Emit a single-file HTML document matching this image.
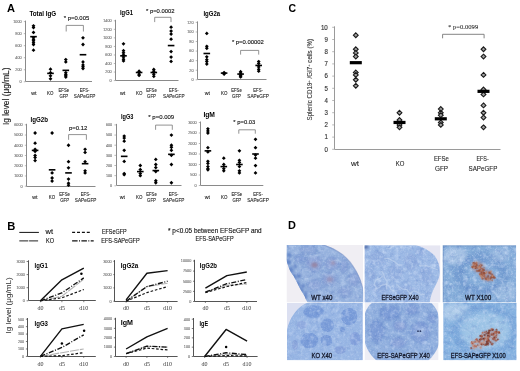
<!DOCTYPE html>
<html><head><meta charset="utf-8"><style>
html,body{margin:0;padding:0;background:#fff;width:520px;height:371px;overflow:hidden}
svg{display:block;filter:blur(0.3px)}
</style></head><body>
<svg width="520" height="371" viewBox="0 0 520 371" font-family="Liberation Sans, sans-serif">
<rect width="520" height="371" fill="#fff"/>
<text x="7.00" y="11.70" font-size="11.8" font-weight="bold" textLength="8.00" lengthAdjust="spacingAndGlyphs">A</text>
<text x="7.20" y="229.50" font-size="11.8" font-weight="bold" textLength="8.10" lengthAdjust="spacingAndGlyphs">B</text>
<text x="288.60" y="11.70" font-size="11.8" font-weight="bold" textLength="7.60" lengthAdjust="spacingAndGlyphs">C</text>
<text x="288.10" y="228.80" font-size="11.8" font-weight="bold" textLength="7.90" lengthAdjust="spacingAndGlyphs">D</text>
<text x="8.90" y="96.30" font-size="8.4" stroke="#222" stroke-width="0.15" text-anchor="middle" fill="#222" textLength="57.60" lengthAdjust="spacingAndGlyphs" transform="rotate(-90 8.90 96.30)">Ig level (μg/mL)</text>
<line x1="25.50" y1="20.60" x2="25.50" y2="81.50" stroke="#8a8a8a" stroke-width="1.0"/>
<line x1="25.50" y1="81.50" x2="92.00" y2="81.50" stroke="#8a8a8a" stroke-width="1.0"/>
<line x1="23.80" y1="81.80" x2="25.40" y2="81.80" stroke="#8a8a8a" stroke-width="0.6"/>
<text x="21.60" y="83.10" font-size="3.8" stroke="#777" stroke-width="0.12" text-anchor="end" fill="#777" textLength="2.10" lengthAdjust="spacingAndGlyphs">0</text>
<line x1="23.80" y1="69.76" x2="25.40" y2="69.76" stroke="#8a8a8a" stroke-width="0.6"/>
<text x="21.60" y="71.06" font-size="3.8" stroke="#777" stroke-width="0.12" text-anchor="end" fill="#777" textLength="6.30" lengthAdjust="spacingAndGlyphs">200</text>
<line x1="23.80" y1="57.72" x2="25.40" y2="57.72" stroke="#8a8a8a" stroke-width="0.6"/>
<text x="21.60" y="59.02" font-size="3.8" stroke="#777" stroke-width="0.12" text-anchor="end" fill="#777" textLength="6.30" lengthAdjust="spacingAndGlyphs">400</text>
<line x1="23.80" y1="45.68" x2="25.40" y2="45.68" stroke="#8a8a8a" stroke-width="0.6"/>
<text x="21.60" y="46.98" font-size="3.8" stroke="#777" stroke-width="0.12" text-anchor="end" fill="#777" textLength="6.30" lengthAdjust="spacingAndGlyphs">600</text>
<line x1="23.80" y1="33.64" x2="25.40" y2="33.64" stroke="#8a8a8a" stroke-width="0.6"/>
<text x="21.60" y="34.94" font-size="3.8" stroke="#777" stroke-width="0.12" text-anchor="end" fill="#777" textLength="6.30" lengthAdjust="spacingAndGlyphs">800</text>
<line x1="23.80" y1="21.60" x2="25.40" y2="21.60" stroke="#8a8a8a" stroke-width="0.6"/>
<text x="21.60" y="22.90" font-size="3.8" stroke="#777" stroke-width="0.12" text-anchor="end" fill="#777" textLength="8.40" lengthAdjust="spacingAndGlyphs">1000</text>
<text x="29.40" y="16.10" font-size="7" font-weight="bold" textLength="26.80" lengthAdjust="spacingAndGlyphs">Total IgG</text>
<text x="63.80" y="20.10" font-size="6.2" stroke="#111" stroke-width="0.12" fill="#111" textLength="25.40" lengthAdjust="spacingAndGlyphs">* p=0.005</text>
<polyline points="66.20,31.50 66.20,25.40 83.40,25.40 83.40,31.50" fill="none" stroke="#777" stroke-width="0.8" stroke-linejoin="round"/>
<polygon points="33.50,23.91 35.40,25.81 33.50,27.71 31.60,25.81" fill="#000"/>
<polygon points="33.50,25.72 35.40,27.62 33.50,29.52 31.60,27.62" fill="#000"/>
<polygon points="33.50,30.54 35.40,32.44 33.50,34.34 31.60,32.44" fill="#000"/>
<polygon points="33.50,35.95 35.40,37.85 33.50,39.75 31.60,37.85" fill="#000"/>
<polygon points="33.50,37.76 35.40,39.66 33.50,41.56 31.60,39.66" fill="#000"/>
<polygon points="33.50,38.96 35.40,40.86 33.50,42.76 31.60,40.86" fill="#000"/>
<polygon points="33.50,40.77 35.40,42.67 33.50,44.57 31.60,42.67" fill="#000"/>
<polygon points="33.50,42.58 35.40,44.48 33.50,46.38 31.60,44.48" fill="#000"/>
<polygon points="33.50,48.30 35.40,50.20 33.50,52.09 31.60,50.20" fill="#000"/>
<rect x="30.20" y="35.85" width="6.6" height="1.6" fill="#000"/>
<polygon points="50.50,67.26 52.40,69.16 50.50,71.06 48.60,69.16" fill="#000"/>
<polygon points="50.50,70.87 52.40,72.77 50.50,74.67 48.60,72.77" fill="#000"/>
<polygon points="50.50,73.88 52.40,75.78 50.50,77.68 48.60,75.78" fill="#000"/>
<polygon points="50.50,76.89 52.40,78.79 50.50,80.69 48.60,78.79" fill="#000"/>
<rect x="47.20" y="72.57" width="6.6" height="1.6" fill="#000"/>
<polygon points="65.80,57.63 67.70,59.53 65.80,61.43 63.90,59.53" fill="#000"/>
<polygon points="65.80,60.03 67.70,61.93 65.80,63.83 63.90,61.93" fill="#000"/>
<polygon points="65.80,70.87 67.70,72.77 65.80,74.67 63.90,72.77" fill="#000"/>
<polygon points="65.80,72.68 67.70,74.58 65.80,76.48 63.90,74.58" fill="#000"/>
<polygon points="65.80,73.88 67.70,75.78 65.80,77.68 63.90,75.78" fill="#000"/>
<polygon points="65.80,75.08 67.70,76.98 65.80,78.88 63.90,76.98" fill="#000"/>
<rect x="62.50" y="69.56" width="6.6" height="1.6" fill="#000"/>
<polygon points="83.00,35.95 84.90,37.85 83.00,39.75 81.10,37.85" fill="#000"/>
<polygon points="83.00,42.58 84.90,44.48 83.00,46.38 81.10,44.48" fill="#000"/>
<polygon points="83.00,60.03 84.90,61.93 83.00,63.83 81.10,61.93" fill="#000"/>
<polygon points="83.00,63.04 84.90,64.94 83.00,66.84 81.10,64.94" fill="#000"/>
<polygon points="83.00,64.85 84.90,66.75 83.00,68.65 81.10,66.75" fill="#000"/>
<polygon points="83.00,66.66 84.90,68.56 83.00,70.46 81.10,68.56" fill="#000"/>
<rect x="79.70" y="53.91" width="6.6" height="1.6" fill="#000"/>
<text x="33.80" y="95.10" font-size="5.6" stroke="#262626" stroke-width="0.12" text-anchor="middle" fill="#262626" textLength="5.20" lengthAdjust="spacingAndGlyphs">wt</text>
<text x="50.30" y="95.40" font-size="5.6" stroke="#262626" stroke-width="0.12" text-anchor="middle" fill="#262626" textLength="6.40" lengthAdjust="spacingAndGlyphs">KO</text>
<text x="63.80" y="91.50" font-size="5.6" stroke="#262626" stroke-width="0.12" text-anchor="middle" fill="#262626" textLength="10.60" lengthAdjust="spacingAndGlyphs">EFSe</text>
<text x="63.80" y="98.20" font-size="5.6" stroke="#262626" stroke-width="0.12" text-anchor="middle" fill="#262626" textLength="8.80" lengthAdjust="spacingAndGlyphs">GFP</text>
<text x="84.60" y="91.50" font-size="5.6" stroke="#262626" stroke-width="0.12" text-anchor="middle" fill="#262626" textLength="9.60" lengthAdjust="spacingAndGlyphs">EFS-</text>
<text x="84.60" y="98.20" font-size="5.6" stroke="#262626" stroke-width="0.12" text-anchor="middle" fill="#262626" textLength="21.50" lengthAdjust="spacingAndGlyphs">SAPeGFP</text>
<line x1="115.50" y1="19.80" x2="115.50" y2="80.50" stroke="#8a8a8a" stroke-width="1.0"/>
<line x1="115.50" y1="80.50" x2="178.50" y2="80.50" stroke="#8a8a8a" stroke-width="1.0"/>
<line x1="113.80" y1="80.60" x2="115.40" y2="80.60" stroke="#8a8a8a" stroke-width="0.6"/>
<text x="111.60" y="81.90" font-size="3.8" stroke="#777" stroke-width="0.12" text-anchor="end" fill="#777" textLength="2.10" lengthAdjust="spacingAndGlyphs">0</text>
<line x1="113.80" y1="72.06" x2="115.40" y2="72.06" stroke="#8a8a8a" stroke-width="0.6"/>
<text x="111.60" y="73.36" font-size="3.8" stroke="#777" stroke-width="0.12" text-anchor="end" fill="#777" textLength="6.30" lengthAdjust="spacingAndGlyphs">200</text>
<line x1="113.80" y1="63.51" x2="115.40" y2="63.51" stroke="#8a8a8a" stroke-width="0.6"/>
<text x="111.60" y="64.81" font-size="3.8" stroke="#777" stroke-width="0.12" text-anchor="end" fill="#777" textLength="6.30" lengthAdjust="spacingAndGlyphs">400</text>
<line x1="113.80" y1="54.97" x2="115.40" y2="54.97" stroke="#8a8a8a" stroke-width="0.6"/>
<text x="111.60" y="56.27" font-size="3.8" stroke="#777" stroke-width="0.12" text-anchor="end" fill="#777" textLength="6.30" lengthAdjust="spacingAndGlyphs">600</text>
<line x1="113.80" y1="46.43" x2="115.40" y2="46.43" stroke="#8a8a8a" stroke-width="0.6"/>
<text x="111.60" y="47.73" font-size="3.8" stroke="#777" stroke-width="0.12" text-anchor="end" fill="#777" textLength="6.30" lengthAdjust="spacingAndGlyphs">800</text>
<line x1="113.80" y1="37.89" x2="115.40" y2="37.89" stroke="#8a8a8a" stroke-width="0.6"/>
<text x="111.60" y="39.19" font-size="3.8" stroke="#777" stroke-width="0.12" text-anchor="end" fill="#777" textLength="8.40" lengthAdjust="spacingAndGlyphs">1000</text>
<line x1="113.80" y1="29.34" x2="115.40" y2="29.34" stroke="#8a8a8a" stroke-width="0.6"/>
<text x="111.60" y="30.64" font-size="3.8" stroke="#777" stroke-width="0.12" text-anchor="end" fill="#777" textLength="8.40" lengthAdjust="spacingAndGlyphs">1200</text>
<line x1="113.80" y1="20.80" x2="115.40" y2="20.80" stroke="#8a8a8a" stroke-width="0.6"/>
<text x="111.60" y="22.10" font-size="3.8" stroke="#777" stroke-width="0.12" text-anchor="end" fill="#777" textLength="8.40" lengthAdjust="spacingAndGlyphs">1400</text>
<text x="120.00" y="14.90" font-size="7" font-weight="bold" textLength="13.00" lengthAdjust="spacingAndGlyphs">IgG1</text>
<text x="146.00" y="12.90" font-size="6.2" stroke="#111" stroke-width="0.12" fill="#111" textLength="28.60" lengthAdjust="spacingAndGlyphs">* p=0.0002</text>
<polyline points="154.70,22.10 154.70,17.30 171.00,17.30 171.00,22.10" fill="none" stroke="#777" stroke-width="0.8" stroke-linejoin="round"/>
<polygon points="123.50,41.97 125.40,43.87 123.50,45.77 121.60,43.87" fill="#000"/>
<polygon points="123.50,48.80 125.40,50.70 123.50,52.60 121.60,50.70" fill="#000"/>
<polygon points="123.50,50.94 125.40,52.84 123.50,54.74 121.60,52.84" fill="#000"/>
<polygon points="123.50,53.07 125.40,54.97 123.50,56.87 121.60,54.97" fill="#000"/>
<polygon points="123.50,55.21 125.40,57.11 123.50,59.01 121.60,57.11" fill="#000"/>
<polygon points="123.50,57.34 125.40,59.24 123.50,61.14 121.60,59.24" fill="#000"/>
<polygon points="123.50,59.05 125.40,60.95 123.50,62.85 121.60,60.95" fill="#000"/>
<rect x="120.20" y="55.03" width="6.6" height="1.6" fill="#000"/>
<polygon points="139.10,69.30 141.00,71.20 139.10,73.10 137.20,71.20" fill="#000"/>
<polygon points="139.10,70.16 141.00,72.06 139.10,73.96 137.20,72.06" fill="#000"/>
<polygon points="139.10,72.29 141.00,74.19 139.10,76.09 137.20,74.19" fill="#000"/>
<polygon points="139.10,73.57 141.00,75.47 139.10,77.37 137.20,75.47" fill="#000"/>
<rect x="135.80" y="71.68" width="6.6" height="1.6" fill="#000"/>
<polygon points="153.80,67.59 155.70,69.49 153.80,71.39 151.90,69.49" fill="#000"/>
<polygon points="153.80,69.30 155.70,71.20 153.80,73.10 151.90,71.20" fill="#000"/>
<polygon points="153.80,72.29 155.70,74.19 153.80,76.09 151.90,74.19" fill="#000"/>
<polygon points="153.80,74.43 155.70,76.33 153.80,78.23 151.90,76.33" fill="#000"/>
<rect x="150.50" y="71.68" width="6.6" height="1.6" fill="#000"/>
<polygon points="171.10,25.31 173.00,27.21 171.10,29.11 169.20,27.21" fill="#000"/>
<polygon points="171.10,29.15 173.00,31.05 171.10,32.95 169.20,31.05" fill="#000"/>
<polygon points="171.10,32.14 173.00,34.04 171.10,35.94 169.20,34.04" fill="#000"/>
<polygon points="171.10,37.27 173.00,39.17 171.10,41.07 169.20,39.17" fill="#000"/>
<polygon points="171.10,49.65 173.00,51.55 171.10,53.45 169.20,51.55" fill="#000"/>
<polygon points="171.10,55.21 173.00,57.11 171.10,59.01 169.20,57.11" fill="#000"/>
<polygon points="171.10,59.48 173.00,61.38 171.10,63.28 169.20,61.38" fill="#000"/>
<rect x="167.80" y="44.77" width="6.6" height="1.6" fill="#000"/>
<text x="122.60" y="95.10" font-size="5.6" stroke="#262626" stroke-width="0.12" text-anchor="middle" fill="#262626" textLength="5.20" lengthAdjust="spacingAndGlyphs">wt</text>
<text x="139.20" y="95.40" font-size="5.6" stroke="#262626" stroke-width="0.12" text-anchor="middle" fill="#262626" textLength="6.40" lengthAdjust="spacingAndGlyphs">KO</text>
<text x="151.50" y="91.50" font-size="5.6" stroke="#262626" stroke-width="0.12" text-anchor="middle" fill="#262626" textLength="10.60" lengthAdjust="spacingAndGlyphs">EFSe</text>
<text x="151.50" y="98.20" font-size="5.6" stroke="#262626" stroke-width="0.12" text-anchor="middle" fill="#262626" textLength="8.80" lengthAdjust="spacingAndGlyphs">GFP</text>
<text x="173.80" y="91.50" font-size="5.6" stroke="#262626" stroke-width="0.12" text-anchor="middle" fill="#262626" textLength="9.60" lengthAdjust="spacingAndGlyphs">EFS-</text>
<text x="173.80" y="98.20" font-size="5.6" stroke="#262626" stroke-width="0.12" text-anchor="middle" fill="#262626" textLength="21.50" lengthAdjust="spacingAndGlyphs">SAPeGFP</text>
<line x1="197.50" y1="21.40" x2="197.50" y2="79.50" stroke="#8a8a8a" stroke-width="1.0"/>
<line x1="197.50" y1="79.50" x2="266.50" y2="79.50" stroke="#8a8a8a" stroke-width="1.0"/>
<line x1="195.70" y1="79.80" x2="197.30" y2="79.80" stroke="#8a8a8a" stroke-width="0.6"/>
<text x="193.50" y="81.10" font-size="3.8" stroke="#777" stroke-width="0.12" text-anchor="end" fill="#777" textLength="2.10" lengthAdjust="spacingAndGlyphs">0</text>
<line x1="195.70" y1="70.23" x2="197.30" y2="70.23" stroke="#8a8a8a" stroke-width="0.6"/>
<text x="193.50" y="71.53" font-size="3.8" stroke="#777" stroke-width="0.12" text-anchor="end" fill="#777" textLength="4.20" lengthAdjust="spacingAndGlyphs">20</text>
<line x1="195.70" y1="60.67" x2="197.30" y2="60.67" stroke="#8a8a8a" stroke-width="0.6"/>
<text x="193.50" y="61.97" font-size="3.8" stroke="#777" stroke-width="0.12" text-anchor="end" fill="#777" textLength="4.20" lengthAdjust="spacingAndGlyphs">40</text>
<line x1="195.70" y1="51.10" x2="197.30" y2="51.10" stroke="#8a8a8a" stroke-width="0.6"/>
<text x="193.50" y="52.40" font-size="3.8" stroke="#777" stroke-width="0.12" text-anchor="end" fill="#777" textLength="4.20" lengthAdjust="spacingAndGlyphs">60</text>
<line x1="195.70" y1="41.53" x2="197.30" y2="41.53" stroke="#8a8a8a" stroke-width="0.6"/>
<text x="193.50" y="42.83" font-size="3.8" stroke="#777" stroke-width="0.12" text-anchor="end" fill="#777" textLength="4.20" lengthAdjust="spacingAndGlyphs">80</text>
<line x1="195.70" y1="31.97" x2="197.30" y2="31.97" stroke="#8a8a8a" stroke-width="0.6"/>
<text x="193.50" y="33.27" font-size="3.8" stroke="#777" stroke-width="0.12" text-anchor="end" fill="#777" textLength="6.30" lengthAdjust="spacingAndGlyphs">100</text>
<line x1="195.70" y1="22.40" x2="197.30" y2="22.40" stroke="#8a8a8a" stroke-width="0.6"/>
<text x="193.50" y="23.70" font-size="3.8" stroke="#777" stroke-width="0.12" text-anchor="end" fill="#777" textLength="6.30" lengthAdjust="spacingAndGlyphs">120</text>
<text x="203.40" y="15.90" font-size="7" font-weight="bold" textLength="16.70" lengthAdjust="spacingAndGlyphs">IgG2a</text>
<text x="231.90" y="44.30" font-size="6.2" stroke="#111" stroke-width="0.12" fill="#111" textLength="32.00" lengthAdjust="spacingAndGlyphs">* p=0.00002</text>
<polyline points="240.60,54.60 240.60,50.40 258.70,50.40 258.70,54.60" fill="none" stroke="#777" stroke-width="0.8" stroke-linejoin="round"/>
<polygon points="206.80,31.50 208.70,33.40 206.80,35.30 204.90,33.40" fill="#000"/>
<polygon points="206.80,44.42 208.70,46.32 206.80,48.22 204.90,46.32" fill="#000"/>
<polygon points="206.80,46.33 208.70,48.23 206.80,50.13 204.90,48.23" fill="#000"/>
<polygon points="206.80,54.94 208.70,56.84 206.80,58.74 204.90,56.84" fill="#000"/>
<polygon points="206.80,57.81 208.70,59.71 206.80,61.61 204.90,59.71" fill="#000"/>
<polygon points="206.80,59.72 208.70,61.62 206.80,63.52 204.90,61.62" fill="#000"/>
<polygon points="206.80,62.12 208.70,64.02 206.80,65.92 204.90,64.02" fill="#000"/>
<rect x="203.50" y="52.69" width="6.6" height="1.6" fill="#000"/>
<polygon points="224.10,70.72 226.00,72.62 224.10,74.53 222.20,72.62" fill="#000"/>
<polygon points="224.10,71.68 226.00,73.58 224.10,75.48 222.20,73.58" fill="#000"/>
<polygon points="224.10,72.16 226.00,74.06 224.10,75.96 222.20,74.06" fill="#000"/>
<rect x="220.80" y="72.30" width="6.6" height="1.6" fill="#000"/>
<polygon points="240.60,69.77 242.50,71.67 240.60,73.57 238.70,71.67" fill="#000"/>
<polygon points="240.60,71.20 242.50,73.10 240.60,75.00 238.70,73.10" fill="#000"/>
<polygon points="240.60,73.12 242.50,75.02 240.60,76.92 238.70,75.02" fill="#000"/>
<polygon points="240.60,74.07 242.50,75.97 240.60,77.87 238.70,75.97" fill="#000"/>
<polygon points="240.60,75.03 242.50,76.93 240.60,78.83 238.70,76.93" fill="#000"/>
<rect x="237.30" y="73.26" width="6.6" height="1.6" fill="#000"/>
<polygon points="258.70,59.72 260.60,61.62 258.70,63.52 256.80,61.62" fill="#000"/>
<polygon points="258.70,61.64 260.60,63.54 258.70,65.44 256.80,63.54" fill="#000"/>
<polygon points="258.70,64.98 260.60,66.88 258.70,68.78 256.80,66.88" fill="#000"/>
<polygon points="258.70,67.38 260.60,69.28 258.70,71.18 256.80,69.28" fill="#000"/>
<polygon points="258.70,69.29 260.60,71.19 258.70,73.09 256.80,71.19" fill="#000"/>
<rect x="255.40" y="64.65" width="6.6" height="1.6" fill="#000"/>
<text x="207.30" y="95.10" font-size="5.6" stroke="#262626" stroke-width="0.12" text-anchor="middle" fill="#262626" textLength="5.20" lengthAdjust="spacingAndGlyphs">wt</text>
<text x="224.20" y="95.40" font-size="5.6" stroke="#262626" stroke-width="0.12" text-anchor="middle" fill="#262626" textLength="6.40" lengthAdjust="spacingAndGlyphs">KO</text>
<text x="236.50" y="91.50" font-size="5.6" stroke="#262626" stroke-width="0.12" text-anchor="middle" fill="#262626" textLength="10.60" lengthAdjust="spacingAndGlyphs">EFSe</text>
<text x="236.50" y="98.20" font-size="5.6" stroke="#262626" stroke-width="0.12" text-anchor="middle" fill="#262626" textLength="8.80" lengthAdjust="spacingAndGlyphs">GFP</text>
<text x="258.10" y="91.50" font-size="5.6" stroke="#262626" stroke-width="0.12" text-anchor="middle" fill="#262626" textLength="9.60" lengthAdjust="spacingAndGlyphs">EFS-</text>
<text x="258.10" y="98.20" font-size="5.6" stroke="#262626" stroke-width="0.12" text-anchor="middle" fill="#262626" textLength="21.50" lengthAdjust="spacingAndGlyphs">SAPeGFP</text>
<line x1="26.50" y1="123.80" x2="26.50" y2="186.50" stroke="#8a8a8a" stroke-width="1.0"/>
<line x1="26.50" y1="186.50" x2="95.50" y2="186.50" stroke="#8a8a8a" stroke-width="1.0"/>
<line x1="24.80" y1="186.20" x2="26.40" y2="186.20" stroke="#8a8a8a" stroke-width="0.6"/>
<text x="22.60" y="187.50" font-size="3.8" stroke="#777" stroke-width="0.12" text-anchor="end" fill="#777" textLength="2.10" lengthAdjust="spacingAndGlyphs">0</text>
<line x1="24.80" y1="175.97" x2="26.40" y2="175.97" stroke="#8a8a8a" stroke-width="0.6"/>
<text x="22.60" y="177.27" font-size="3.8" stroke="#777" stroke-width="0.12" text-anchor="end" fill="#777" textLength="8.40" lengthAdjust="spacingAndGlyphs">1000</text>
<line x1="24.80" y1="165.73" x2="26.40" y2="165.73" stroke="#8a8a8a" stroke-width="0.6"/>
<text x="22.60" y="167.03" font-size="3.8" stroke="#777" stroke-width="0.12" text-anchor="end" fill="#777" textLength="8.40" lengthAdjust="spacingAndGlyphs">2000</text>
<line x1="24.80" y1="155.50" x2="26.40" y2="155.50" stroke="#8a8a8a" stroke-width="0.6"/>
<text x="22.60" y="156.80" font-size="3.8" stroke="#777" stroke-width="0.12" text-anchor="end" fill="#777" textLength="8.40" lengthAdjust="spacingAndGlyphs">3000</text>
<line x1="24.80" y1="145.27" x2="26.40" y2="145.27" stroke="#8a8a8a" stroke-width="0.6"/>
<text x="22.60" y="146.57" font-size="3.8" stroke="#777" stroke-width="0.12" text-anchor="end" fill="#777" textLength="8.40" lengthAdjust="spacingAndGlyphs">4000</text>
<line x1="24.80" y1="135.03" x2="26.40" y2="135.03" stroke="#8a8a8a" stroke-width="0.6"/>
<text x="22.60" y="136.33" font-size="3.8" stroke="#777" stroke-width="0.12" text-anchor="end" fill="#777" textLength="8.40" lengthAdjust="spacingAndGlyphs">5000</text>
<line x1="24.80" y1="124.80" x2="26.40" y2="124.80" stroke="#8a8a8a" stroke-width="0.6"/>
<text x="22.60" y="126.10" font-size="3.8" stroke="#777" stroke-width="0.12" text-anchor="end" fill="#777" textLength="8.40" lengthAdjust="spacingAndGlyphs">6000</text>
<text x="30.50" y="121.90" font-size="7" font-weight="bold" textLength="17.50" lengthAdjust="spacingAndGlyphs">IgG2b</text>
<text x="68.90" y="129.60" font-size="6.2" stroke="#111" stroke-width="0.12" fill="#111" textLength="18.50" lengthAdjust="spacingAndGlyphs">p=0.12</text>
<polyline points="68.60,139.80 68.60,134.60 86.40,134.60 86.40,139.80" fill="none" stroke="#777" stroke-width="0.8" stroke-linejoin="round"/>
<polygon points="35.10,131.09 37.00,132.99 35.10,134.89 33.20,132.99" fill="#000"/>
<polygon points="35.10,141.32 37.00,143.22 35.10,145.12 33.20,143.22" fill="#000"/>
<polygon points="35.10,147.46 37.00,149.36 35.10,151.26 33.20,149.36" fill="#000"/>
<polygon points="35.10,149.51 37.00,151.41 35.10,153.31 33.20,151.41" fill="#000"/>
<polygon points="35.10,153.60 37.00,155.50 35.10,157.40 33.20,155.50" fill="#000"/>
<polygon points="35.10,155.65 37.00,157.55 35.10,159.45 33.20,157.55" fill="#000"/>
<polygon points="35.10,158.72 37.00,160.62 35.10,162.52 33.20,160.62" fill="#000"/>
<rect x="31.80" y="149.58" width="6.6" height="1.6" fill="#000"/>
<polygon points="52.10,131.09 54.00,132.99 52.10,134.89 50.20,132.99" fill="#000"/>
<polygon points="52.10,171.00 54.00,172.90 52.10,174.80 50.20,172.90" fill="#000"/>
<polygon points="52.10,176.11 54.00,178.01 52.10,179.91 50.20,178.01" fill="#000"/>
<polygon points="52.10,179.18 54.00,181.08 52.10,182.98 50.20,181.08" fill="#000"/>
<rect x="48.80" y="169.03" width="6.6" height="1.6" fill="#000"/>
<polygon points="68.50,143.37 70.40,145.27 68.50,147.17 66.60,145.27" fill="#000"/>
<polygon points="68.50,159.74 70.40,161.64 68.50,163.54 66.60,161.64" fill="#000"/>
<polygon points="68.50,165.88 70.40,167.78 68.50,169.68 66.60,167.78" fill="#000"/>
<polygon points="68.50,177.14 70.40,179.04 68.50,180.94 66.60,179.04" fill="#000"/>
<polygon points="68.50,181.23 70.40,183.13 68.50,185.03 66.60,183.13" fill="#000"/>
<polygon points="68.50,183.28 70.40,185.18 68.50,187.08 66.60,185.18" fill="#000"/>
<rect x="65.20" y="172.10" width="6.6" height="1.6" fill="#000"/>
<polygon points="85.10,147.46 87.00,149.36 85.10,151.26 83.20,149.36" fill="#000"/>
<polygon points="85.10,150.53 87.00,152.43 85.10,154.33 83.20,152.43" fill="#000"/>
<polygon points="85.10,159.74 87.00,161.64 85.10,163.54 83.20,161.64" fill="#000"/>
<polygon points="85.10,168.95 87.00,170.85 85.10,172.75 83.20,170.85" fill="#000"/>
<polygon points="85.10,171.00 87.00,172.90 85.10,174.80 83.20,172.90" fill="#000"/>
<rect x="81.80" y="162.89" width="6.6" height="1.6" fill="#000"/>
<text x="34.90" y="199.10" font-size="5.6" stroke="#262626" stroke-width="0.12" text-anchor="middle" fill="#262626" textLength="5.20" lengthAdjust="spacingAndGlyphs">wt</text>
<text x="52.00" y="199.40" font-size="5.6" stroke="#262626" stroke-width="0.12" text-anchor="middle" fill="#262626" textLength="6.40" lengthAdjust="spacingAndGlyphs">KO</text>
<text x="64.60" y="195.50" font-size="5.6" stroke="#262626" stroke-width="0.12" text-anchor="middle" fill="#262626" textLength="10.60" lengthAdjust="spacingAndGlyphs">EFSe</text>
<text x="64.60" y="202.20" font-size="5.6" stroke="#262626" stroke-width="0.12" text-anchor="middle" fill="#262626" textLength="8.80" lengthAdjust="spacingAndGlyphs">GFP</text>
<text x="85.60" y="195.50" font-size="5.6" stroke="#262626" stroke-width="0.12" text-anchor="middle" fill="#262626" textLength="9.60" lengthAdjust="spacingAndGlyphs">EFS-</text>
<text x="85.60" y="202.20" font-size="5.6" stroke="#262626" stroke-width="0.12" text-anchor="middle" fill="#262626" textLength="21.50" lengthAdjust="spacingAndGlyphs">SAPeGFP</text>
<line x1="116.50" y1="123.90" x2="116.50" y2="185.50" stroke="#8a8a8a" stroke-width="1.0"/>
<line x1="116.50" y1="185.50" x2="181.50" y2="185.50" stroke="#8a8a8a" stroke-width="1.0"/>
<line x1="114.40" y1="185.80" x2="116.00" y2="185.80" stroke="#8a8a8a" stroke-width="0.6"/>
<text x="112.20" y="187.10" font-size="3.8" stroke="#777" stroke-width="0.12" text-anchor="end" fill="#777" textLength="2.10" lengthAdjust="spacingAndGlyphs">0</text>
<line x1="114.40" y1="175.65" x2="116.00" y2="175.65" stroke="#8a8a8a" stroke-width="0.6"/>
<text x="112.20" y="176.95" font-size="3.8" stroke="#777" stroke-width="0.12" text-anchor="end" fill="#777" textLength="6.30" lengthAdjust="spacingAndGlyphs">100</text>
<line x1="114.40" y1="165.50" x2="116.00" y2="165.50" stroke="#8a8a8a" stroke-width="0.6"/>
<text x="112.20" y="166.80" font-size="3.8" stroke="#777" stroke-width="0.12" text-anchor="end" fill="#777" textLength="6.30" lengthAdjust="spacingAndGlyphs">200</text>
<line x1="114.40" y1="155.35" x2="116.00" y2="155.35" stroke="#8a8a8a" stroke-width="0.6"/>
<text x="112.20" y="156.65" font-size="3.8" stroke="#777" stroke-width="0.12" text-anchor="end" fill="#777" textLength="6.30" lengthAdjust="spacingAndGlyphs">300</text>
<line x1="114.40" y1="145.20" x2="116.00" y2="145.20" stroke="#8a8a8a" stroke-width="0.6"/>
<text x="112.20" y="146.50" font-size="3.8" stroke="#777" stroke-width="0.12" text-anchor="end" fill="#777" textLength="6.30" lengthAdjust="spacingAndGlyphs">400</text>
<line x1="114.40" y1="135.05" x2="116.00" y2="135.05" stroke="#8a8a8a" stroke-width="0.6"/>
<text x="112.20" y="136.35" font-size="3.8" stroke="#777" stroke-width="0.12" text-anchor="end" fill="#777" textLength="6.30" lengthAdjust="spacingAndGlyphs">500</text>
<line x1="114.40" y1="124.90" x2="116.00" y2="124.90" stroke="#8a8a8a" stroke-width="0.6"/>
<text x="112.20" y="126.20" font-size="3.8" stroke="#777" stroke-width="0.12" text-anchor="end" fill="#777" textLength="6.30" lengthAdjust="spacingAndGlyphs">600</text>
<text x="121.00" y="119.40" font-size="7" font-weight="bold" textLength="12.40" lengthAdjust="spacingAndGlyphs">IgG3</text>
<text x="148.30" y="118.50" font-size="6.2" stroke="#111" stroke-width="0.12" fill="#111" textLength="25.90" lengthAdjust="spacingAndGlyphs">* p=0.009</text>
<polyline points="155.60,129.80 155.60,125.10 172.30,125.10 172.30,129.80" fill="none" stroke="#777" stroke-width="0.8" stroke-linejoin="round"/>
<polygon points="124.20,134.16 126.10,136.06 124.20,137.97 122.30,136.06" fill="#000"/>
<polygon points="124.20,136.19 126.10,138.09 124.20,140.00 122.30,138.09" fill="#000"/>
<polygon points="124.20,139.24 126.10,141.14 124.20,143.04 122.30,141.14" fill="#000"/>
<polygon points="124.20,148.38 126.10,150.28 124.20,152.18 122.30,150.28" fill="#000"/>
<polygon points="124.20,159.54 126.10,161.44 124.20,163.34 122.30,161.44" fill="#000"/>
<polygon points="124.20,171.72 126.10,173.62 124.20,175.52 122.30,173.62" fill="#000"/>
<polygon points="124.20,172.74 126.10,174.64 124.20,176.54 122.30,174.64" fill="#000"/>
<rect x="120.90" y="155.56" width="6.6" height="1.6" fill="#000"/>
<polygon points="140.30,163.60 142.20,165.50 140.30,167.40 138.40,165.50" fill="#000"/>
<polygon points="140.30,167.66 142.20,169.56 140.30,171.46 138.40,169.56" fill="#000"/>
<polygon points="140.30,171.72 142.20,173.62 140.30,175.52 138.40,173.62" fill="#000"/>
<polygon points="140.30,173.75 142.20,175.65 140.30,177.55 138.40,175.65" fill="#000"/>
<rect x="137.00" y="170.79" width="6.6" height="1.6" fill="#000"/>
<polygon points="155.80,157.51 157.70,159.41 155.80,161.31 153.90,159.41" fill="#000"/>
<polygon points="155.80,162.59 157.70,164.49 155.80,166.39 153.90,164.49" fill="#000"/>
<polygon points="155.80,165.63 157.70,167.53 155.80,169.43 153.90,167.53" fill="#000"/>
<polygon points="155.80,169.69 157.70,171.59 155.80,173.49 153.90,171.59" fill="#000"/>
<polygon points="155.80,178.83 157.70,180.73 155.80,182.63 153.90,180.73" fill="#000"/>
<polygon points="155.80,180.86 157.70,182.76 155.80,184.66 153.90,182.76" fill="#000"/>
<rect x="152.50" y="169.78" width="6.6" height="1.6" fill="#000"/>
<polygon points="171.40,133.15 173.30,135.05 171.40,136.95 169.50,135.05" fill="#000"/>
<polygon points="171.40,143.30 173.30,145.20 171.40,147.10 169.50,145.20" fill="#000"/>
<polygon points="171.40,145.33 173.30,147.23 171.40,149.13 169.50,147.23" fill="#000"/>
<polygon points="171.40,148.38 173.30,150.28 171.40,152.18 169.50,150.28" fill="#000"/>
<polygon points="171.40,153.45 173.30,155.35 171.40,157.25 169.50,155.35" fill="#000"/>
<polygon points="171.40,162.59 173.30,164.49 171.40,166.39 169.50,164.49" fill="#000"/>
<polygon points="171.40,180.86 173.30,182.76 171.40,184.66 169.50,182.76" fill="#000"/>
<rect x="168.10" y="153.53" width="6.6" height="1.6" fill="#000"/>
<text x="122.30" y="199.10" font-size="5.6" stroke="#262626" stroke-width="0.12" text-anchor="middle" fill="#262626" textLength="5.20" lengthAdjust="spacingAndGlyphs">wt</text>
<text x="139.20" y="199.40" font-size="5.6" stroke="#262626" stroke-width="0.12" text-anchor="middle" fill="#262626" textLength="6.40" lengthAdjust="spacingAndGlyphs">KO</text>
<text x="151.50" y="195.50" font-size="5.6" stroke="#262626" stroke-width="0.12" text-anchor="middle" fill="#262626" textLength="10.60" lengthAdjust="spacingAndGlyphs">EFSe</text>
<text x="151.50" y="202.20" font-size="5.6" stroke="#262626" stroke-width="0.12" text-anchor="middle" fill="#262626" textLength="8.80" lengthAdjust="spacingAndGlyphs">GFP</text>
<text x="173.60" y="195.50" font-size="5.6" stroke="#262626" stroke-width="0.12" text-anchor="middle" fill="#262626" textLength="9.60" lengthAdjust="spacingAndGlyphs">EFS-</text>
<text x="173.60" y="202.20" font-size="5.6" stroke="#262626" stroke-width="0.12" text-anchor="middle" fill="#262626" textLength="21.50" lengthAdjust="spacingAndGlyphs">SAPeGFP</text>
<line x1="200.50" y1="121.50" x2="200.50" y2="185.50" stroke="#8a8a8a" stroke-width="1.0"/>
<line x1="200.50" y1="185.50" x2="263.30" y2="185.50" stroke="#8a8a8a" stroke-width="1.0"/>
<line x1="198.80" y1="185.50" x2="200.40" y2="185.50" stroke="#8a8a8a" stroke-width="0.6"/>
<text x="196.60" y="186.80" font-size="3.8" stroke="#777" stroke-width="0.12" text-anchor="end" fill="#777" textLength="2.10" lengthAdjust="spacingAndGlyphs">0</text>
<line x1="198.80" y1="175.00" x2="200.40" y2="175.00" stroke="#8a8a8a" stroke-width="0.6"/>
<text x="196.60" y="176.30" font-size="3.8" stroke="#777" stroke-width="0.12" text-anchor="end" fill="#777" textLength="6.30" lengthAdjust="spacingAndGlyphs">500</text>
<line x1="198.80" y1="164.50" x2="200.40" y2="164.50" stroke="#8a8a8a" stroke-width="0.6"/>
<text x="196.60" y="165.80" font-size="3.8" stroke="#777" stroke-width="0.12" text-anchor="end" fill="#777" textLength="8.40" lengthAdjust="spacingAndGlyphs">1000</text>
<line x1="198.80" y1="154.00" x2="200.40" y2="154.00" stroke="#8a8a8a" stroke-width="0.6"/>
<text x="196.60" y="155.30" font-size="3.8" stroke="#777" stroke-width="0.12" text-anchor="end" fill="#777" textLength="8.40" lengthAdjust="spacingAndGlyphs">1500</text>
<line x1="198.80" y1="143.50" x2="200.40" y2="143.50" stroke="#8a8a8a" stroke-width="0.6"/>
<text x="196.60" y="144.80" font-size="3.8" stroke="#777" stroke-width="0.12" text-anchor="end" fill="#777" textLength="8.40" lengthAdjust="spacingAndGlyphs">2000</text>
<line x1="198.80" y1="133.00" x2="200.40" y2="133.00" stroke="#8a8a8a" stroke-width="0.6"/>
<text x="196.60" y="134.30" font-size="3.8" stroke="#777" stroke-width="0.12" text-anchor="end" fill="#777" textLength="8.40" lengthAdjust="spacingAndGlyphs">2500</text>
<line x1="198.80" y1="122.50" x2="200.40" y2="122.50" stroke="#8a8a8a" stroke-width="0.6"/>
<text x="196.60" y="123.80" font-size="3.8" stroke="#777" stroke-width="0.12" text-anchor="end" fill="#777" textLength="8.40" lengthAdjust="spacingAndGlyphs">3000</text>
<text x="203.40" y="117.00" font-size="7" font-weight="bold" textLength="11.60" lengthAdjust="spacingAndGlyphs">IgM</text>
<text x="233.30" y="124.00" font-size="6.2" stroke="#111" stroke-width="0.12" fill="#111" textLength="22.00" lengthAdjust="spacingAndGlyphs">* p=0.03</text>
<polyline points="238.80,133.70 238.80,129.80 255.30,129.80 255.30,133.70" fill="none" stroke="#777" stroke-width="0.8" stroke-linejoin="round"/>
<polygon points="207.90,126.90 209.80,128.80 207.90,130.70 206.00,128.80" fill="#000"/>
<polygon points="207.90,129.00 209.80,130.90 207.90,132.80 206.00,130.90" fill="#000"/>
<polygon points="207.90,131.10 209.80,133.00 207.90,134.90 206.00,133.00" fill="#000"/>
<polygon points="207.90,145.80 209.80,147.70 207.90,149.60 206.00,147.70" fill="#000"/>
<polygon points="207.90,150.00 209.80,151.90 207.90,153.80 206.00,151.90" fill="#000"/>
<polygon points="207.90,159.45 209.80,161.35 207.90,163.25 206.00,161.35" fill="#000"/>
<polygon points="207.90,161.55 209.80,163.45 207.90,165.35 206.00,163.45" fill="#000"/>
<polygon points="207.90,164.70 209.80,166.60 207.90,168.50 206.00,166.60" fill="#000"/>
<polygon points="207.90,166.80 209.80,168.70 207.90,170.60 206.00,168.70" fill="#000"/>
<polygon points="207.90,167.85 209.80,169.75 207.90,171.65 206.00,169.75" fill="#000"/>
<rect x="204.60" y="150.05" width="6.6" height="1.6" fill="#000"/>
<polygon points="223.80,156.30 225.70,158.20 223.80,160.10 221.90,158.20" fill="#000"/>
<polygon points="223.80,162.60 225.70,164.50 223.80,166.40 221.90,164.50" fill="#000"/>
<polygon points="223.80,166.80 225.70,168.70 223.80,170.60 221.90,168.70" fill="#000"/>
<polygon points="223.80,168.90 225.70,170.80 223.80,172.70 221.90,170.80" fill="#000"/>
<rect x="220.50" y="165.80" width="6.6" height="1.6" fill="#000"/>
<polygon points="239.40,148.95 241.30,150.85 239.40,152.75 237.50,150.85" fill="#000"/>
<polygon points="239.40,158.40 241.30,160.30 239.40,162.20 237.50,160.30" fill="#000"/>
<polygon points="239.40,160.50 241.30,162.40 239.40,164.30 237.50,162.40" fill="#000"/>
<polygon points="239.40,164.70 241.30,166.60 239.40,168.50 237.50,166.60" fill="#000"/>
<polygon points="239.40,168.90 241.30,170.80 239.40,172.70 237.50,170.80" fill="#000"/>
<polygon points="239.40,171.00 241.30,172.90 239.40,174.80 237.50,172.90" fill="#000"/>
<rect x="236.10" y="163.70" width="6.6" height="1.6" fill="#000"/>
<polygon points="255.50,137.40 257.40,139.30 255.50,141.20 253.60,139.30" fill="#000"/>
<polygon points="255.50,145.80 257.40,147.70 255.50,149.60 253.60,147.70" fill="#000"/>
<polygon points="255.50,153.15 257.40,155.05 255.50,156.95 253.60,155.05" fill="#000"/>
<polygon points="255.50,156.30 257.40,158.20 255.50,160.10 253.60,158.20" fill="#000"/>
<polygon points="255.50,163.65 257.40,165.55 255.50,167.45 253.60,165.55" fill="#000"/>
<polygon points="255.50,171.00 257.40,172.90 255.50,174.80 253.60,172.90" fill="#000"/>
<rect x="252.20" y="153.20" width="6.6" height="1.6" fill="#000"/>
<text x="207.30" y="199.10" font-size="5.6" stroke="#262626" stroke-width="0.12" text-anchor="middle" fill="#262626" textLength="5.20" lengthAdjust="spacingAndGlyphs">wt</text>
<text x="224.20" y="199.40" font-size="5.6" stroke="#262626" stroke-width="0.12" text-anchor="middle" fill="#262626" textLength="6.40" lengthAdjust="spacingAndGlyphs">KO</text>
<text x="236.80" y="195.50" font-size="5.6" stroke="#262626" stroke-width="0.12" text-anchor="middle" fill="#262626" textLength="10.60" lengthAdjust="spacingAndGlyphs">EFSe</text>
<text x="236.80" y="202.20" font-size="5.6" stroke="#262626" stroke-width="0.12" text-anchor="middle" fill="#262626" textLength="8.80" lengthAdjust="spacingAndGlyphs">GFP</text>
<text x="258.00" y="195.50" font-size="5.6" stroke="#262626" stroke-width="0.12" text-anchor="middle" fill="#262626" textLength="9.60" lengthAdjust="spacingAndGlyphs">EFS-</text>
<text x="258.00" y="202.20" font-size="5.6" stroke="#262626" stroke-width="0.12" text-anchor="middle" fill="#262626" textLength="21.50" lengthAdjust="spacingAndGlyphs">SAPeGFP</text>
<line x1="19.30" y1="232.40" x2="38.90" y2="232.40" stroke="#111" stroke-width="1.0"/>
<text x="45.50" y="233.80" font-size="6.6" stroke="#111" stroke-width="0.12" fill="#111" textLength="7.50" lengthAdjust="spacingAndGlyphs">wt</text>
<line x1="19.30" y1="240.90" x2="38.90" y2="240.90" stroke="#222" stroke-width="1.0" stroke-dasharray="9,0.8"/>
<text x="46.10" y="242.70" font-size="6.6" stroke="#111" stroke-width="0.12" fill="#111" textLength="8.00" lengthAdjust="spacingAndGlyphs">KO</text>
<line x1="72.10" y1="232.40" x2="91.10" y2="232.40" stroke="#111" stroke-width="1.1" stroke-dasharray="3,1.9"/>
<text x="101.90" y="234.20" font-size="6.5" stroke="#111" stroke-width="0.12" fill="#111" textLength="24.80" lengthAdjust="spacingAndGlyphs">EFSeGFP</text>
<line x1="72.10" y1="240.90" x2="93.70" y2="240.90" stroke="#111" stroke-width="1.2" stroke-dasharray="5.5,1.4,1,1.4"/>
<text x="101.20" y="242.80" font-size="6.5" stroke="#111" stroke-width="0.12" fill="#111" textLength="38.50" lengthAdjust="spacingAndGlyphs">EFS-SAPeGFP</text>
<text x="168.10" y="232.60" font-size="6.6" stroke="#111" stroke-width="0.12" fill="#111" textLength="93.50" lengthAdjust="spacingAndGlyphs">* p&lt;0.05 between EFSeGFP and</text>
<text x="195.50" y="241.20" font-size="6.8" stroke="#111" stroke-width="0.12" fill="#111" textLength="38.20" lengthAdjust="spacingAndGlyphs">EFS-SAPeGFP</text>
<text x="11.20" y="305.40" font-size="8.0" stroke="#333" stroke-width="0.05" text-anchor="middle" fill="#333" textLength="56.00" lengthAdjust="spacingAndGlyphs" transform="rotate(-90 11.20 305.40)">Ig level (μg/mL)</text>
<line x1="28.50" y1="260.30" x2="28.50" y2="300.50" stroke="#555" stroke-width="1.0"/>
<line x1="28.50" y1="300.50" x2="95.80" y2="300.50" stroke="#555" stroke-width="1.0"/>
<line x1="26.60" y1="300.80" x2="28.20" y2="300.80" stroke="#444" stroke-width="0.7"/>
<text x="24.90" y="302.10" font-size="3.8" stroke="#777" stroke-width="0.12" text-anchor="end" fill="#777" textLength="2.10" lengthAdjust="spacingAndGlyphs">0</text>
<line x1="26.60" y1="287.70" x2="28.20" y2="287.70" stroke="#444" stroke-width="0.7"/>
<text x="24.90" y="289.00" font-size="3.8" stroke="#777" stroke-width="0.12" text-anchor="end" fill="#777" textLength="8.40" lengthAdjust="spacingAndGlyphs">1000</text>
<line x1="26.60" y1="274.60" x2="28.20" y2="274.60" stroke="#444" stroke-width="0.7"/>
<text x="24.90" y="275.90" font-size="3.8" stroke="#777" stroke-width="0.12" text-anchor="end" fill="#777" textLength="8.40" lengthAdjust="spacingAndGlyphs">2000</text>
<line x1="26.60" y1="261.50" x2="28.20" y2="261.50" stroke="#444" stroke-width="0.7"/>
<text x="24.90" y="262.80" font-size="3.8" stroke="#777" stroke-width="0.12" text-anchor="end" fill="#777" textLength="8.40" lengthAdjust="spacingAndGlyphs">3000</text>
<line x1="40.40" y1="300.80" x2="40.40" y2="302.20" stroke="#444" stroke-width="0.7"/>
<line x1="61.90" y1="300.80" x2="61.90" y2="302.20" stroke="#444" stroke-width="0.7"/>
<line x1="83.80" y1="300.80" x2="83.80" y2="302.20" stroke="#444" stroke-width="0.7"/>
<text x="40.40" y="309.90" font-size="5.8" text-anchor="middle" fill="#333" font-family="Liberation Serif, serif" textLength="6.0" lengthAdjust="spacingAndGlyphs">d0</text>
<text x="61.90" y="309.90" font-size="5.8" text-anchor="middle" fill="#333" font-family="Liberation Serif, serif" textLength="6.0" lengthAdjust="spacingAndGlyphs">d5</text>
<text x="83.80" y="309.90" font-size="5.8" text-anchor="middle" fill="#333" font-family="Liberation Serif, serif" textLength="9.0" lengthAdjust="spacingAndGlyphs">d10</text>
<text x="34.50" y="268.00" font-size="7" font-weight="bold" textLength="13.20" lengthAdjust="spacingAndGlyphs">IgG1</text>
<polyline points="40.40,300.80 61.90,296.22 83.80,279.19" fill="none" stroke="#b4b4b4" stroke-width="1.1" stroke-dasharray="9,1" stroke-linejoin="round"/>
<polyline points="40.40,300.80 61.90,297.79 83.80,289.53" fill="none" stroke="#111" stroke-width="1.2" stroke-dasharray="2.6,1.8" stroke-linejoin="round"/>
<polyline points="40.40,300.80 61.90,292.94 83.80,277.88" fill="none" stroke="#111" stroke-width="1.35" stroke-dasharray="5,1.6,1,1.6" stroke-linejoin="round"/>
<polyline points="40.40,300.80 61.90,279.84 83.80,268.05" fill="none" stroke="#111" stroke-width="1.4" stroke-linejoin="round"/>
<circle cx="81.40" cy="273.70" r="1.25" fill="#000"/>
<line x1="114.50" y1="260.10" x2="114.50" y2="301.50" stroke="#555" stroke-width="1.0"/>
<line x1="114.50" y1="301.50" x2="177.60" y2="301.50" stroke="#555" stroke-width="1.0"/>
<line x1="113.30" y1="301.20" x2="114.90" y2="301.20" stroke="#444" stroke-width="0.7"/>
<text x="111.60" y="302.50" font-size="3.8" stroke="#777" stroke-width="0.12" text-anchor="end" fill="#777" textLength="2.10" lengthAdjust="spacingAndGlyphs">0</text>
<line x1="113.30" y1="287.90" x2="114.90" y2="287.90" stroke="#444" stroke-width="0.7"/>
<text x="111.60" y="289.20" font-size="3.8" stroke="#777" stroke-width="0.12" text-anchor="end" fill="#777" textLength="8.40" lengthAdjust="spacingAndGlyphs">1000</text>
<line x1="113.30" y1="274.60" x2="114.90" y2="274.60" stroke="#444" stroke-width="0.7"/>
<text x="111.60" y="275.90" font-size="3.8" stroke="#777" stroke-width="0.12" text-anchor="end" fill="#777" textLength="8.40" lengthAdjust="spacingAndGlyphs">2000</text>
<line x1="113.30" y1="261.30" x2="114.90" y2="261.30" stroke="#444" stroke-width="0.7"/>
<text x="111.60" y="262.60" font-size="3.8" stroke="#777" stroke-width="0.12" text-anchor="end" fill="#777" textLength="8.40" lengthAdjust="spacingAndGlyphs">3000</text>
<line x1="126.10" y1="301.20" x2="126.10" y2="302.60" stroke="#444" stroke-width="0.7"/>
<line x1="146.90" y1="301.20" x2="146.90" y2="302.60" stroke="#444" stroke-width="0.7"/>
<line x1="167.60" y1="301.20" x2="167.60" y2="302.60" stroke="#444" stroke-width="0.7"/>
<text x="126.10" y="309.90" font-size="5.8" text-anchor="middle" fill="#333" font-family="Liberation Serif, serif" textLength="6.0" lengthAdjust="spacingAndGlyphs">d0</text>
<text x="146.90" y="309.90" font-size="5.8" text-anchor="middle" fill="#333" font-family="Liberation Serif, serif" textLength="6.0" lengthAdjust="spacingAndGlyphs">d5</text>
<text x="167.60" y="309.90" font-size="5.8" text-anchor="middle" fill="#333" font-family="Liberation Serif, serif" textLength="9.0" lengthAdjust="spacingAndGlyphs">d10</text>
<text x="120.80" y="267.60" font-size="7" font-weight="bold" textLength="17.60" lengthAdjust="spacingAndGlyphs">IgG2a</text>
<polyline points="126.10,301.20 146.90,286.57 167.60,283.25" fill="none" stroke="#b4b4b4" stroke-width="1.1" stroke-dasharray="9,1" stroke-linejoin="round"/>
<polyline points="126.10,301.20 146.90,292.56 167.60,286.57" fill="none" stroke="#111" stroke-width="1.2" stroke-dasharray="2.6,1.8" stroke-linejoin="round"/>
<polyline points="126.10,301.20 146.90,286.57 167.60,281.25" fill="none" stroke="#111" stroke-width="1.35" stroke-dasharray="5,1.6,1,1.6" stroke-linejoin="round"/>
<polyline points="126.10,299.87 146.90,273.27 167.60,270.61" fill="none" stroke="#111" stroke-width="1.4" stroke-linejoin="round"/>
<line x1="194.50" y1="259.80" x2="194.50" y2="301.50" stroke="#555" stroke-width="1.0"/>
<line x1="194.50" y1="301.50" x2="257.00" y2="301.50" stroke="#555" stroke-width="1.0"/>
<line x1="193.00" y1="301.50" x2="194.60" y2="301.50" stroke="#444" stroke-width="0.7"/>
<text x="191.30" y="302.80" font-size="3.8" stroke="#777" stroke-width="0.12" text-anchor="end" fill="#777" textLength="2.10" lengthAdjust="spacingAndGlyphs">0</text>
<line x1="193.00" y1="291.38" x2="194.60" y2="291.38" stroke="#444" stroke-width="0.7"/>
<text x="191.30" y="292.68" font-size="3.8" stroke="#777" stroke-width="0.12" text-anchor="end" fill="#777" textLength="8.40" lengthAdjust="spacingAndGlyphs">2500</text>
<line x1="193.00" y1="281.25" x2="194.60" y2="281.25" stroke="#444" stroke-width="0.7"/>
<text x="191.30" y="282.55" font-size="3.8" stroke="#777" stroke-width="0.12" text-anchor="end" fill="#777" textLength="8.40" lengthAdjust="spacingAndGlyphs">5000</text>
<line x1="193.00" y1="271.12" x2="194.60" y2="271.12" stroke="#444" stroke-width="0.7"/>
<text x="191.30" y="272.43" font-size="3.8" stroke="#777" stroke-width="0.12" text-anchor="end" fill="#777" textLength="8.40" lengthAdjust="spacingAndGlyphs">7500</text>
<line x1="193.00" y1="261.00" x2="194.60" y2="261.00" stroke="#444" stroke-width="0.7"/>
<text x="191.30" y="262.30" font-size="3.8" stroke="#777" stroke-width="0.12" text-anchor="end" fill="#777" textLength="10.50" lengthAdjust="spacingAndGlyphs">10000</text>
<line x1="205.40" y1="301.50" x2="205.40" y2="302.90" stroke="#444" stroke-width="0.7"/>
<line x1="226.90" y1="301.50" x2="226.90" y2="302.90" stroke="#444" stroke-width="0.7"/>
<line x1="246.80" y1="301.50" x2="246.80" y2="302.90" stroke="#444" stroke-width="0.7"/>
<text x="205.40" y="309.90" font-size="5.8" text-anchor="middle" fill="#333" font-family="Liberation Serif, serif" textLength="6.0" lengthAdjust="spacingAndGlyphs">d0</text>
<text x="226.90" y="309.90" font-size="5.8" text-anchor="middle" fill="#333" font-family="Liberation Serif, serif" textLength="6.0" lengthAdjust="spacingAndGlyphs">d5</text>
<text x="246.80" y="309.90" font-size="5.8" text-anchor="middle" fill="#333" font-family="Liberation Serif, serif" textLength="9.0" lengthAdjust="spacingAndGlyphs">d10</text>
<text x="199.80" y="267.60" font-size="7" font-weight="bold" textLength="17.20" lengthAdjust="spacingAndGlyphs">IgG2b</text>
<polyline points="205.40,291.78 226.90,285.30 246.80,284.08" fill="none" stroke="#b4b4b4" stroke-width="1.1" stroke-dasharray="9,1" stroke-linejoin="round"/>
<polyline points="205.40,292.59 226.90,286.51 246.80,282.46" fill="none" stroke="#111" stroke-width="1.2" stroke-dasharray="2.6,1.8" stroke-linejoin="round"/>
<polyline points="205.40,292.19 226.90,283.68 246.80,279.63" fill="none" stroke="#111" stroke-width="1.35" stroke-dasharray="5,1.6,1,1.6" stroke-linejoin="round"/>
<polyline points="205.40,288.13 226.90,275.58 246.80,271.94" fill="none" stroke="#111" stroke-width="1.4" stroke-linejoin="round"/>
<line x1="27.50" y1="318.00" x2="27.50" y2="356.50" stroke="#555" stroke-width="1.0"/>
<line x1="27.50" y1="356.50" x2="95.80" y2="356.50" stroke="#555" stroke-width="1.0"/>
<line x1="25.90" y1="356.40" x2="27.50" y2="356.40" stroke="#444" stroke-width="0.7"/>
<text x="24.20" y="357.70" font-size="3.8" stroke="#777" stroke-width="0.12" text-anchor="end" fill="#777" textLength="2.10" lengthAdjust="spacingAndGlyphs">0</text>
<line x1="25.90" y1="348.96" x2="27.50" y2="348.96" stroke="#444" stroke-width="0.7"/>
<text x="24.20" y="350.26" font-size="3.8" stroke="#777" stroke-width="0.12" text-anchor="end" fill="#777" textLength="6.30" lengthAdjust="spacingAndGlyphs">100</text>
<line x1="25.90" y1="341.52" x2="27.50" y2="341.52" stroke="#444" stroke-width="0.7"/>
<text x="24.20" y="342.82" font-size="3.8" stroke="#777" stroke-width="0.12" text-anchor="end" fill="#777" textLength="6.30" lengthAdjust="spacingAndGlyphs">200</text>
<line x1="25.90" y1="334.08" x2="27.50" y2="334.08" stroke="#444" stroke-width="0.7"/>
<text x="24.20" y="335.38" font-size="3.8" stroke="#777" stroke-width="0.12" text-anchor="end" fill="#777" textLength="6.30" lengthAdjust="spacingAndGlyphs">300</text>
<line x1="25.90" y1="326.64" x2="27.50" y2="326.64" stroke="#444" stroke-width="0.7"/>
<text x="24.20" y="327.94" font-size="3.8" stroke="#777" stroke-width="0.12" text-anchor="end" fill="#777" textLength="6.30" lengthAdjust="spacingAndGlyphs">400</text>
<line x1="25.90" y1="319.20" x2="27.50" y2="319.20" stroke="#444" stroke-width="0.7"/>
<text x="24.20" y="320.50" font-size="3.8" stroke="#777" stroke-width="0.12" text-anchor="end" fill="#777" textLength="6.30" lengthAdjust="spacingAndGlyphs">500</text>
<line x1="40.40" y1="356.40" x2="40.40" y2="357.80" stroke="#444" stroke-width="0.7"/>
<line x1="61.90" y1="356.40" x2="61.90" y2="357.80" stroke="#444" stroke-width="0.7"/>
<line x1="83.70" y1="356.40" x2="83.70" y2="357.80" stroke="#444" stroke-width="0.7"/>
<text x="40.40" y="366.40" font-size="5.8" text-anchor="middle" fill="#333" font-family="Liberation Serif, serif" textLength="6.0" lengthAdjust="spacingAndGlyphs">d0</text>
<text x="61.90" y="366.40" font-size="5.8" text-anchor="middle" fill="#333" font-family="Liberation Serif, serif" textLength="6.0" lengthAdjust="spacingAndGlyphs">d5</text>
<text x="83.70" y="366.40" font-size="5.8" text-anchor="middle" fill="#333" font-family="Liberation Serif, serif" textLength="9.0" lengthAdjust="spacingAndGlyphs">d10</text>
<text x="34.50" y="325.50" font-size="7" font-weight="bold" textLength="13.50" lengthAdjust="spacingAndGlyphs">IgG3</text>
<polyline points="40.40,356.40 61.90,352.68 83.70,348.96" fill="none" stroke="#b4b4b4" stroke-width="1.1" stroke-dasharray="9,1" stroke-linejoin="round"/>
<polyline points="40.40,356.40 61.90,355.66 83.70,352.68" fill="none" stroke="#111" stroke-width="1.2" stroke-dasharray="2.6,1.8" stroke-linejoin="round"/>
<polyline points="40.40,356.40 61.90,347.47 83.70,334.82" fill="none" stroke="#111" stroke-width="1.35" stroke-dasharray="5,1.6,1,1.6" stroke-linejoin="round"/>
<polyline points="40.40,356.40 61.90,328.87 83.70,324.41" fill="none" stroke="#111" stroke-width="1.4" stroke-linejoin="round"/>
<circle cx="61.90" cy="343.50" r="1.25" fill="#000"/>
<circle cx="84.10" cy="330.70" r="1.25" fill="#000"/>
<line x1="115.50" y1="317.80" x2="115.50" y2="356.50" stroke="#555" stroke-width="1.0"/>
<line x1="115.50" y1="356.50" x2="177.60" y2="356.50" stroke="#555" stroke-width="1.0"/>
<line x1="113.90" y1="356.50" x2="115.50" y2="356.50" stroke="#444" stroke-width="0.7"/>
<text x="112.20" y="357.80" font-size="3.8" stroke="#777" stroke-width="0.12" text-anchor="end" fill="#777" textLength="2.10" lengthAdjust="spacingAndGlyphs">0</text>
<line x1="113.90" y1="347.12" x2="115.50" y2="347.12" stroke="#444" stroke-width="0.7"/>
<text x="112.20" y="348.43" font-size="3.8" stroke="#777" stroke-width="0.12" text-anchor="end" fill="#777" textLength="8.40" lengthAdjust="spacingAndGlyphs">1000</text>
<line x1="113.90" y1="337.75" x2="115.50" y2="337.75" stroke="#444" stroke-width="0.7"/>
<text x="112.20" y="339.05" font-size="3.8" stroke="#777" stroke-width="0.12" text-anchor="end" fill="#777" textLength="8.40" lengthAdjust="spacingAndGlyphs">2000</text>
<line x1="113.90" y1="328.38" x2="115.50" y2="328.38" stroke="#444" stroke-width="0.7"/>
<text x="112.20" y="329.68" font-size="3.8" stroke="#777" stroke-width="0.12" text-anchor="end" fill="#777" textLength="8.40" lengthAdjust="spacingAndGlyphs">3000</text>
<line x1="113.90" y1="319.00" x2="115.50" y2="319.00" stroke="#444" stroke-width="0.7"/>
<text x="112.20" y="320.30" font-size="3.8" stroke="#777" stroke-width="0.12" text-anchor="end" fill="#777" textLength="8.40" lengthAdjust="spacingAndGlyphs">4000</text>
<line x1="126.10" y1="356.50" x2="126.10" y2="357.90" stroke="#444" stroke-width="0.7"/>
<line x1="146.90" y1="356.50" x2="146.90" y2="357.90" stroke="#444" stroke-width="0.7"/>
<line x1="167.60" y1="356.50" x2="167.60" y2="357.90" stroke="#444" stroke-width="0.7"/>
<text x="126.10" y="366.40" font-size="5.8" text-anchor="middle" fill="#333" font-family="Liberation Serif, serif" textLength="6.0" lengthAdjust="spacingAndGlyphs">d0</text>
<text x="146.90" y="366.40" font-size="5.8" text-anchor="middle" fill="#333" font-family="Liberation Serif, serif" textLength="6.0" lengthAdjust="spacingAndGlyphs">d5</text>
<text x="167.60" y="366.40" font-size="5.8" text-anchor="middle" fill="#333" font-family="Liberation Serif, serif" textLength="9.0" lengthAdjust="spacingAndGlyphs">d10</text>
<text x="120.80" y="325.00" font-size="7" font-weight="bold" textLength="12.20" lengthAdjust="spacingAndGlyphs">IgM</text>
<polyline points="126.10,353.69 146.90,346.19 167.60,347.12" fill="none" stroke="#b4b4b4" stroke-width="1.1" stroke-dasharray="9,1" stroke-linejoin="round"/>
<polyline points="126.10,353.69 146.90,348.06 167.60,349.94" fill="none" stroke="#111" stroke-width="1.2" stroke-dasharray="2.6,1.8" stroke-linejoin="round"/>
<polyline points="126.10,353.69 146.90,346.19 167.60,347.12" fill="none" stroke="#111" stroke-width="1.35" stroke-dasharray="5,1.6,1,1.6" stroke-linejoin="round"/>
<polyline points="126.10,349.00 146.90,336.81 167.60,328.38" fill="none" stroke="#111" stroke-width="1.4" stroke-linejoin="round"/>
<line x1="193.50" y1="318.00" x2="193.50" y2="356.50" stroke="#555" stroke-width="1.0"/>
<line x1="193.50" y1="356.50" x2="257.60" y2="356.50" stroke="#555" stroke-width="1.0"/>
<line x1="191.80" y1="356.50" x2="193.40" y2="356.50" stroke="#444" stroke-width="0.7"/>
<text x="190.10" y="357.80" font-size="3.8" stroke="#777" stroke-width="0.12" text-anchor="end" fill="#777" textLength="2.10" lengthAdjust="spacingAndGlyphs">0</text>
<line x1="191.80" y1="347.18" x2="193.40" y2="347.18" stroke="#444" stroke-width="0.7"/>
<text x="190.10" y="348.48" font-size="3.8" stroke="#777" stroke-width="0.12" text-anchor="end" fill="#777" textLength="6.30" lengthAdjust="spacingAndGlyphs">100</text>
<line x1="191.80" y1="337.85" x2="193.40" y2="337.85" stroke="#444" stroke-width="0.7"/>
<text x="190.10" y="339.15" font-size="3.8" stroke="#777" stroke-width="0.12" text-anchor="end" fill="#777" textLength="6.30" lengthAdjust="spacingAndGlyphs">200</text>
<line x1="191.80" y1="328.52" x2="193.40" y2="328.52" stroke="#444" stroke-width="0.7"/>
<text x="190.10" y="329.82" font-size="3.8" stroke="#777" stroke-width="0.12" text-anchor="end" fill="#777" textLength="6.30" lengthAdjust="spacingAndGlyphs">300</text>
<line x1="191.80" y1="319.20" x2="193.40" y2="319.20" stroke="#444" stroke-width="0.7"/>
<text x="190.10" y="320.50" font-size="3.8" stroke="#777" stroke-width="0.12" text-anchor="end" fill="#777" textLength="6.30" lengthAdjust="spacingAndGlyphs">400</text>
<line x1="204.60" y1="356.50" x2="204.60" y2="357.90" stroke="#444" stroke-width="0.7"/>
<line x1="226.10" y1="356.50" x2="226.10" y2="357.90" stroke="#444" stroke-width="0.7"/>
<line x1="247.10" y1="356.50" x2="247.10" y2="357.90" stroke="#444" stroke-width="0.7"/>
<text x="204.60" y="366.40" font-size="5.8" text-anchor="middle" fill="#333" font-family="Liberation Serif, serif" textLength="6.0" lengthAdjust="spacingAndGlyphs">d0</text>
<text x="226.10" y="366.40" font-size="5.8" text-anchor="middle" fill="#333" font-family="Liberation Serif, serif" textLength="6.0" lengthAdjust="spacingAndGlyphs">d5</text>
<text x="247.10" y="366.40" font-size="5.8" text-anchor="middle" fill="#333" font-family="Liberation Serif, serif" textLength="9.0" lengthAdjust="spacingAndGlyphs">d10</text>
<text x="199.50" y="325.50" font-size="7" font-weight="bold" textLength="8.60" lengthAdjust="spacingAndGlyphs">IgE</text>
<polyline points="204.60,356.50 226.10,354.17 247.10,355.10" fill="none" stroke="#b4b4b4" stroke-width="1.1" stroke-dasharray="9,1" stroke-linejoin="round"/>
<polyline points="204.60,356.50 226.10,355.57 247.10,356.03" fill="none" stroke="#111" stroke-width="1.2" stroke-dasharray="2.6,1.8" stroke-linejoin="round"/>
<polyline points="204.60,356.50 226.10,352.77 247.10,354.63" fill="none" stroke="#111" stroke-width="1.35" stroke-dasharray="5,1.6,1,1.6" stroke-linejoin="round"/>
<polyline points="204.60,356.50 226.10,329.46 247.10,341.11" fill="none" stroke="#111" stroke-width="1.4" stroke-linejoin="round"/>
<circle cx="226.10" cy="347.00" r="1.25" fill="#000"/>
<line x1="334.50" y1="26.30" x2="334.50" y2="149.50" stroke="#9a9a9a" stroke-width="1.0"/>
<line x1="334.50" y1="149.50" x2="500.50" y2="149.50" stroke="#9a9a9a" stroke-width="1.0"/>
<line x1="332.20" y1="149.30" x2="334.20" y2="149.30" stroke="#9a9a9a" stroke-width="0.7"/>
<text x="327.80" y="151.60" font-size="6.9" stroke="#333" stroke-width="0.15" text-anchor="end" fill="#333" textLength="3.40" lengthAdjust="spacingAndGlyphs">0</text>
<line x1="332.20" y1="137.10" x2="334.20" y2="137.10" stroke="#9a9a9a" stroke-width="0.7"/>
<text x="327.80" y="139.40" font-size="6.9" stroke="#333" stroke-width="0.15" text-anchor="end" fill="#333" textLength="3.40" lengthAdjust="spacingAndGlyphs">1</text>
<line x1="332.20" y1="124.90" x2="334.20" y2="124.90" stroke="#9a9a9a" stroke-width="0.7"/>
<text x="327.80" y="127.20" font-size="6.9" stroke="#333" stroke-width="0.15" text-anchor="end" fill="#333" textLength="3.40" lengthAdjust="spacingAndGlyphs">2</text>
<line x1="332.20" y1="112.70" x2="334.20" y2="112.70" stroke="#9a9a9a" stroke-width="0.7"/>
<text x="327.80" y="115.00" font-size="6.9" stroke="#333" stroke-width="0.15" text-anchor="end" fill="#333" textLength="3.40" lengthAdjust="spacingAndGlyphs">3</text>
<line x1="332.20" y1="100.50" x2="334.20" y2="100.50" stroke="#9a9a9a" stroke-width="0.7"/>
<text x="327.80" y="102.80" font-size="6.9" stroke="#333" stroke-width="0.15" text-anchor="end" fill="#333" textLength="3.40" lengthAdjust="spacingAndGlyphs">4</text>
<line x1="332.20" y1="88.30" x2="334.20" y2="88.30" stroke="#9a9a9a" stroke-width="0.7"/>
<text x="327.80" y="90.60" font-size="6.9" stroke="#333" stroke-width="0.15" text-anchor="end" fill="#333" textLength="3.40" lengthAdjust="spacingAndGlyphs">5</text>
<line x1="332.20" y1="76.10" x2="334.20" y2="76.10" stroke="#9a9a9a" stroke-width="0.7"/>
<text x="327.80" y="78.40" font-size="6.9" stroke="#333" stroke-width="0.15" text-anchor="end" fill="#333" textLength="3.40" lengthAdjust="spacingAndGlyphs">6</text>
<line x1="332.20" y1="63.90" x2="334.20" y2="63.90" stroke="#9a9a9a" stroke-width="0.7"/>
<text x="327.80" y="66.20" font-size="6.9" stroke="#333" stroke-width="0.15" text-anchor="end" fill="#333" textLength="3.40" lengthAdjust="spacingAndGlyphs">7</text>
<line x1="332.20" y1="51.70" x2="334.20" y2="51.70" stroke="#9a9a9a" stroke-width="0.7"/>
<text x="327.80" y="54.00" font-size="6.9" stroke="#333" stroke-width="0.15" text-anchor="end" fill="#333" textLength="3.40" lengthAdjust="spacingAndGlyphs">8</text>
<line x1="332.20" y1="39.50" x2="334.20" y2="39.50" stroke="#9a9a9a" stroke-width="0.7"/>
<text x="327.80" y="41.80" font-size="6.9" stroke="#333" stroke-width="0.15" text-anchor="end" fill="#333" textLength="3.40" lengthAdjust="spacingAndGlyphs">9</text>
<line x1="332.20" y1="27.30" x2="334.20" y2="27.30" stroke="#9a9a9a" stroke-width="0.7"/>
<text x="327.80" y="29.60" font-size="6.9" stroke="#333" stroke-width="0.15" text-anchor="end" fill="#333" textLength="6.90" lengthAdjust="spacingAndGlyphs">10</text>
<text x="312.0" y="79.7" font-size="6.6" text-anchor="middle" fill="#333" stroke="#333" stroke-width="0.08" textLength="81.6" lengthAdjust="spacingAndGlyphs" transform="rotate(-90 312.0 79.7)">Splenic CD19<tspan font-size="4.2" dy="-2.2">+</tspan><tspan dy="2.2"> /GI7</tspan><tspan font-size="4.2" dy="-2.2">+</tspan><tspan dy="2.2"> cells (%)</tspan></text>
<polygon points="355.80,32.83 358.20,35.23 355.80,37.63 353.40,35.23" fill="#a0a0a0" stroke="#1a1a1a" stroke-width="1.1"/>
<polygon points="355.80,46.86 358.20,49.26 355.80,51.66 353.40,49.26" fill="#a0a0a0" stroke="#1a1a1a" stroke-width="1.1"/>
<polygon points="355.80,50.52 358.20,52.92 355.80,55.32 353.40,52.92" fill="#a0a0a0" stroke="#1a1a1a" stroke-width="1.1"/>
<polygon points="355.80,54.18 358.20,56.58 355.80,58.98 353.40,56.58" fill="#a0a0a0" stroke="#1a1a1a" stroke-width="1.1"/>
<polygon points="355.80,70.04 358.20,72.44 355.80,74.84 353.40,72.44" fill="#a0a0a0" stroke="#1a1a1a" stroke-width="1.1"/>
<polygon points="355.80,72.48 358.20,74.88 355.80,77.28 353.40,74.88" fill="#a0a0a0" stroke="#1a1a1a" stroke-width="1.1"/>
<polygon points="355.80,77.36 358.20,79.76 355.80,82.16 353.40,79.76" fill="#a0a0a0" stroke="#1a1a1a" stroke-width="1.1"/>
<polygon points="355.80,83.46 358.20,85.86 355.80,88.26 353.40,85.86" fill="#a0a0a0" stroke="#1a1a1a" stroke-width="1.1"/>
<rect x="349.80" y="61.08" width="12" height="3.2" fill="#000"/>
<polygon points="399.50,110.30 401.90,112.70 399.50,115.10 397.10,112.70" fill="#a0a0a0" stroke="#1a1a1a" stroke-width="1.1"/>
<polygon points="399.50,117.62 401.90,120.02 399.50,122.42 397.10,120.02" fill="#a0a0a0" stroke="#1a1a1a" stroke-width="1.1"/>
<polygon points="399.50,122.50 401.90,124.90 399.50,127.30 397.10,124.90" fill="#a0a0a0" stroke="#1a1a1a" stroke-width="1.1"/>
<polygon points="399.50,124.94 401.90,127.34 399.50,129.74 397.10,127.34" fill="#a0a0a0" stroke="#1a1a1a" stroke-width="1.1"/>
<rect x="393.50" y="120.86" width="12" height="3.2" fill="#000"/>
<polygon points="440.80,106.64 443.20,109.04 440.80,111.44 438.40,109.04" fill="#a0a0a0" stroke="#1a1a1a" stroke-width="1.1"/>
<polygon points="440.80,110.30 443.20,112.70 440.80,115.10 438.40,112.70" fill="#a0a0a0" stroke="#1a1a1a" stroke-width="1.1"/>
<polygon points="440.80,112.74 443.20,115.14 440.80,117.54 438.40,115.14" fill="#a0a0a0" stroke="#1a1a1a" stroke-width="1.1"/>
<polygon points="440.80,120.06 443.20,122.46 440.80,124.86 438.40,122.46" fill="#a0a0a0" stroke="#1a1a1a" stroke-width="1.1"/>
<polygon points="440.80,122.50 443.20,124.90 440.80,127.30 438.40,124.90" fill="#a0a0a0" stroke="#1a1a1a" stroke-width="1.1"/>
<rect x="434.80" y="117.20" width="12" height="3.2" fill="#000"/>
<polygon points="483.50,46.86 485.90,49.26 483.50,51.66 481.10,49.26" fill="#a0a0a0" stroke="#1a1a1a" stroke-width="1.1"/>
<polygon points="483.50,54.18 485.90,56.58 483.50,58.98 481.10,56.58" fill="#a0a0a0" stroke="#1a1a1a" stroke-width="1.1"/>
<polygon points="483.50,72.48 485.90,74.88 483.50,77.28 481.10,74.88" fill="#a0a0a0" stroke="#1a1a1a" stroke-width="1.1"/>
<polygon points="483.50,87.12 485.90,89.52 483.50,91.92 481.10,89.52" fill="#a0a0a0" stroke="#1a1a1a" stroke-width="1.1"/>
<polygon points="483.50,92.00 485.90,94.40 483.50,96.80 481.10,94.40" fill="#a0a0a0" stroke="#1a1a1a" stroke-width="1.1"/>
<polygon points="483.50,102.98 485.90,105.38 483.50,107.78 481.10,105.38" fill="#a0a0a0" stroke="#1a1a1a" stroke-width="1.1"/>
<polygon points="483.50,110.30 485.90,112.70 483.50,115.10 481.10,112.70" fill="#a0a0a0" stroke="#1a1a1a" stroke-width="1.1"/>
<polygon points="483.50,115.18 485.90,117.58 483.50,119.98 481.10,117.58" fill="#a0a0a0" stroke="#1a1a1a" stroke-width="1.1"/>
<polygon points="483.50,124.94 485.90,127.34 483.50,129.74 481.10,127.34" fill="#a0a0a0" stroke="#1a1a1a" stroke-width="1.1"/>
<rect x="477.50" y="89.75" width="12" height="3.2" fill="#000"/>
<text x="355.10" y="165.80" font-size="6.6" stroke="#262626" stroke-width="0.1" text-anchor="middle" fill="#262626" textLength="8.00" lengthAdjust="spacingAndGlyphs">wt</text>
<text x="400.00" y="165.80" font-size="6.6" stroke="#262626" stroke-width="0.1" text-anchor="middle" fill="#262626" textLength="8.60" lengthAdjust="spacingAndGlyphs">KO</text>
<text x="441.35" y="160.80" font-size="6.4" stroke="#262626" stroke-width="0.1" text-anchor="middle" fill="#262626" textLength="14.90" lengthAdjust="spacingAndGlyphs">EFSe</text>
<text x="441.50" y="170.80" font-size="6.4" stroke="#262626" stroke-width="0.1" text-anchor="middle" fill="#262626" textLength="13.10" lengthAdjust="spacingAndGlyphs">GFP</text>
<text x="482.60" y="160.80" font-size="6.4" stroke="#262626" stroke-width="0.1" text-anchor="middle" fill="#262626" textLength="12.30" lengthAdjust="spacingAndGlyphs">EFS-</text>
<text x="482.90" y="170.80" font-size="6.4" stroke="#262626" stroke-width="0.1" text-anchor="middle" fill="#262626" textLength="28.80" lengthAdjust="spacingAndGlyphs">SAPeGFP</text>
<text x="448.00" y="28.60" font-size="5.8" stroke="#222" stroke-width="0.05" fill="#222" textLength="30.20" lengthAdjust="spacingAndGlyphs" font-family="Liberation Serif, serif">* p=0.0099</text>
<polyline points="442.60,38.30 442.60,34.30 484.10,34.30 484.10,38.30" fill="none" stroke="#777" stroke-width="0.9" stroke-linejoin="round"/>
<defs>
<filter id="bl1" x="-50%" y="-50%" width="200%" height="200%"><feGaussianBlur stdDeviation="1.6"/></filter>
<filter id="bl3" x="-50%" y="-50%" width="200%" height="200%"><feGaussianBlur stdDeviation="2.6"/></filter>
<filter id="bl2" x="-50%" y="-50%" width="200%" height="200%"><feGaussianBlur stdDeviation="0.8"/></filter>
<filter id="bl05" x="-50%" y="-50%" width="200%" height="200%"><feGaussianBlur stdDeviation="0.45"/></filter>
<filter id="nl" x="0" y="0" width="100%" height="100%" color-interpolation-filters="sRGB">
 <feTurbulence type="fractalNoise" baseFrequency="0.22" numOctaves="3" seed="3" result="t"/>
 <feColorMatrix in="t" type="matrix" values="0 0 0 0 0.816  0 0 0 0 0.878  0 0 0 0 0.973  2.2 0 0 0 -1.05"/>
</filter>
<filter id="nd" x="0" y="0" width="100%" height="100%" color-interpolation-filters="sRGB">
 <feTurbulence type="fractalNoise" baseFrequency="0.2" numOctaves="3" seed="11" result="t"/>
 <feColorMatrix in="t" type="matrix" values="0 0 0 0 0.282  0 0 0 0 0.431  0 0 0 0 0.737  2.2 0 0 0 -1.12"/>
</filter>
<filter id="nf" x="0" y="0" width="100%" height="100%" color-interpolation-filters="sRGB">
 <feTurbulence type="fractalNoise" baseFrequency="0.6" numOctaves="2" seed="5" result="t"/>
 <feColorMatrix in="t" type="matrix" values="0 0 0 0 0.882  0 0 0 0 0.925  0 0 0 0 0.988  2.0 0 0 0 -1.0"/>
</filter>
<clipPath id="c1"><rect x="286.5" y="245.0" width="76.70" height="57.50"/></clipPath>
<clipPath id="c2"><rect x="364.5" y="245.2" width="76.00" height="57.30"/></clipPath>
<clipPath id="c3"><rect x="442.6" y="245.3" width="73.60" height="57.20"/></clipPath>
<clipPath id="c4"><rect x="287.0" y="302.8" width="75.80" height="57.50"/></clipPath>
<clipPath id="c5"><rect x="364.5" y="302.8" width="74.10" height="57.50"/></clipPath>
<clipPath id="c6"><rect x="443.2" y="302.8" width="73.40" height="57.50"/></clipPath>
<clipPath id="t1"><path d="M286,244 L322,244 C327,245.5 333,248 342.3,254.4 C346,257.5 348,259.5 350.1,262.2 C353,266 354.5,268.5 356.3,271.6 C358.5,276 360,279 361,282.5 C362.2,286 363,289 363.3,292 L364.5,303 L307.9,303 C306,300 305,298 304.8,296.6 C302,292 300,289 298.5,285.6 C296.5,281 295,279 293.8,276.3 C291.5,273 290,271 289.1,268.4 C287.5,264 286.8,262 286,259 Z"/></clipPath>
<clipPath id="t2"><path d="M364,244 L411,244 C420,245.5 428,249 434.7,255.7 C438.5,261 439.8,266 439.8,271.9 C439.6,277 438.1,280.4 434.7,287.1 C432.5,291.5 430.5,296 429.6,303 L364,303 Z"/></clipPath>
<clipPath id="t4"><path d="M309,302 L364,302 L364,361 L286,361 L286,336 C287,328 289,320 294.6,313 C298,308 303,304.5 309,302 Z"/></clipPath>
<clipPath id="t5"><path d="M373,302 L430,302 C435,306 438,311 439,318 L439,344 C437,351 433,356 428,361 L377,361 C372,357 367,350 365,343 L365,313 C367,308 369,305 373,302 Z"/></clipPath>
</defs>
<g clip-path="url(#c1)">
<rect x="286.5" y="245.0" width="76.69999999999999" height="57.5" fill="rgb(240,238,243)"/>
<g clip-path="url(#t1)">
<rect x="286.5" y="245.0" width="76.69999999999999" height="57.5" fill="rgb(150,178,222)"/>
<ellipse cx="300.8" cy="258.3" rx="5.5" ry="4" fill="rgb(134,162,216)" opacity="0.95" filter="url(#bl2)"/>
<ellipse cx="300.8" cy="258.3" rx="5.5" ry="4" fill="none" stroke="rgb(114,146,206)" stroke-width="1.8" opacity="0.55" filter="url(#bl2)"/>
<ellipse cx="314" cy="263.7" rx="8" ry="7.8" fill="rgb(144,166,216)" opacity="0.95" filter="url(#bl2)"/>
<ellipse cx="314" cy="263.7" rx="8" ry="7.8" fill="none" stroke="rgb(114,146,206)" stroke-width="1.8" opacity="0.55" filter="url(#bl2)"/>
<ellipse cx="332" cy="263.7" rx="7" ry="6.3" fill="rgb(144,166,216)" opacity="0.95" filter="url(#bl2)"/>
<ellipse cx="332" cy="263.7" rx="7" ry="6.3" fill="none" stroke="rgb(114,146,206)" stroke-width="1.8" opacity="0.55" filter="url(#bl2)"/>
<ellipse cx="329" cy="279.4" rx="7" ry="6.3" fill="rgb(142,164,214)" opacity="0.95" filter="url(#bl2)"/>
<ellipse cx="329" cy="279.4" rx="7" ry="6.3" fill="none" stroke="rgb(114,146,206)" stroke-width="1.8" opacity="0.55" filter="url(#bl2)"/>
<ellipse cx="354.7" cy="279.3" rx="6.2" ry="6.3" fill="rgb(149,172,220)" opacity="0.95" filter="url(#bl2)"/>
<ellipse cx="354.7" cy="279.3" rx="6.2" ry="6.3" fill="none" stroke="rgb(114,146,206)" stroke-width="1.8" opacity="0.55" filter="url(#bl2)"/>
<ellipse cx="344" cy="266" rx="4" ry="6" fill="rgb(144,168,218)" opacity="0.95" filter="url(#bl2)"/>
<ellipse cx="344" cy="266" rx="4" ry="6" fill="none" stroke="rgb(114,146,206)" stroke-width="1.8" opacity="0.55" filter="url(#bl2)"/>
<ellipse cx="315" cy="285" rx="7" ry="5" fill="rgb(144,168,218)" opacity="0.95" filter="url(#bl2)"/>
<ellipse cx="315" cy="285" rx="7" ry="5" fill="none" stroke="rgb(114,146,206)" stroke-width="1.8" opacity="0.55" filter="url(#bl2)"/>
<ellipse cx="345" cy="292" rx="6" ry="5" fill="rgb(144,168,218)" opacity="0.95" filter="url(#bl2)"/>
<ellipse cx="345" cy="292" rx="6" ry="5" fill="none" stroke="rgb(114,146,206)" stroke-width="1.8" opacity="0.55" filter="url(#bl2)"/>
<ellipse cx="308" cy="250" rx="8" ry="4" fill="rgb(146,170,218)" opacity="0.95" filter="url(#bl2)"/>
<ellipse cx="308" cy="250" rx="8" ry="4" fill="none" stroke="rgb(114,146,206)" stroke-width="1.8" opacity="0.55" filter="url(#bl2)"/>
<rect x="286.5" y="245.0" width="76.70" height="57.50" filter="url(#nl)" opacity="0.5"/>
<rect x="286.5" y="245.0" width="76.70" height="57.50" filter="url(#nd)" opacity="0.3"/>
<rect x="286.5" y="245.0" width="76.70" height="57.50" filter="url(#nf)" opacity="0.3"/>
<ellipse cx="288.5" cy="262" rx="2.8600000000000003" ry="2.64" fill="rgb(89,125,194)" opacity="0.8" filter="url(#bl2)"/>
<ellipse cx="290.5" cy="270" rx="3.3800000000000003" ry="3.12" fill="rgb(89,125,194)" opacity="0.8" filter="url(#bl2)"/>
<ellipse cx="293.5" cy="277" rx="3.12" ry="2.88" fill="rgb(89,125,194)" opacity="0.8" filter="url(#bl2)"/>
<ellipse cx="297" cy="284" rx="3.3800000000000003" ry="3.12" fill="rgb(89,125,194)" opacity="0.8" filter="url(#bl2)"/>
<ellipse cx="300.5" cy="290.5" rx="3.12" ry="2.88" fill="rgb(89,125,194)" opacity="0.8" filter="url(#bl2)"/>
<ellipse cx="304.5" cy="297" rx="2.8600000000000003" ry="2.64" fill="rgb(89,125,194)" opacity="0.8" filter="url(#bl2)"/>
<ellipse cx="295" cy="266" rx="2.08" ry="1.92" fill="rgb(89,125,194)" opacity="0.8" filter="url(#bl2)"/>
<ellipse cx="299" cy="276" rx="2.3400000000000003" ry="2.16" fill="rgb(89,125,194)" opacity="0.8" filter="url(#bl2)"/>
<ellipse cx="303" cy="286" rx="2.08" ry="1.92" fill="rgb(89,125,194)" opacity="0.8" filter="url(#bl2)"/>
<ellipse cx="289" cy="255" rx="2.3400000000000003" ry="2.16" fill="rgb(89,125,194)" opacity="0.8" filter="url(#bl2)"/>
<ellipse cx="306" cy="293" rx="1.9500000000000002" ry="1.7999999999999998" fill="rgb(89,125,194)" opacity="0.8" filter="url(#bl2)"/>
<ellipse cx="314.5" cy="265" rx="3.2" ry="2.8" fill="rgb(150,125,150)" opacity="0.75" filter="url(#bl2)"/>
<ellipse cx="333" cy="263" rx="2.4" ry="2.2" fill="rgb(160,135,160)" opacity="0.55" filter="url(#bl2)"/>
<ellipse cx="329.8" cy="279.4" rx="3" ry="2.6" fill="rgb(160,138,165)" opacity="0.5" filter="url(#bl2)"/>
</g>
<path d="M322,245 C327,246 333,248 342.3,254.4 C346,257.5 348,259.5 350.1,262.2 C353,266 354.5,268.5 356.3,271.6 C358.5,276 360,279 361,282.5 C362.2,286 363,289 363.3,292 L364,303" fill="none" stroke="rgb(124,148,200)" stroke-width="1.2" opacity="0.6"/>
</g>
<g clip-path="url(#c2)">
<rect x="364.5" y="245.2" width="76.0" height="57.30000000000001" fill="rgb(230,230,242)"/>
<g clip-path="url(#t2)">
<rect x="364.5" y="245.2" width="76.0" height="57.30000000000001" fill="rgb(156,185,229)"/>
<ellipse cx="378" cy="258" rx="8" ry="7" fill="rgb(144,172,222)" opacity="0.85" filter="url(#bl2)"/>
<ellipse cx="395" cy="272" rx="6" ry="8" fill="rgb(144,172,222)" opacity="0.85" filter="url(#bl2)"/>
<ellipse cx="411" cy="262" rx="7" ry="8" fill="rgb(144,172,222)" opacity="0.85" filter="url(#bl2)"/>
<ellipse cx="426" cy="275" rx="6" ry="8" fill="rgb(144,172,222)" opacity="0.85" filter="url(#bl2)"/>
<ellipse cx="380" cy="288" rx="8" ry="6" fill="rgb(144,172,222)" opacity="0.85" filter="url(#bl2)"/>
<ellipse cx="406" cy="291" rx="8" ry="6" fill="rgb(144,172,222)" opacity="0.85" filter="url(#bl2)"/>
<ellipse cx="371" cy="274" rx="5" ry="6" fill="rgb(144,172,222)" opacity="0.85" filter="url(#bl2)"/>
<ellipse cx="420" cy="252" rx="5" ry="4" fill="rgb(144,172,222)" opacity="0.85" filter="url(#bl2)"/>
<rect x="364.5" y="245.2" width="76.00" height="57.30" filter="url(#nl)" opacity="0.7"/>
<rect x="364.5" y="245.2" width="76.00" height="57.30" filter="url(#nd)" opacity="0.3"/>
<rect x="364.5" y="245.2" width="76.00" height="57.30" filter="url(#nf)" opacity="0.35"/>
<path d="M382.6,276.4 L379.4,278.7 L375.7,280.3 L374.2,284.0 L376.1,287.6 L375.6,291.5" fill="none" stroke="rgb(204,220,242)" stroke-width="1.3" opacity="0.5" filter="url(#bl05)"/>
<path d="M384.2,258.6 L388.2,258.3 L391.7,260.3 L395.2,262.1 L398.2,264.8 L402.2,265.2" fill="none" stroke="rgb(204,220,242)" stroke-width="1.3" opacity="0.5" filter="url(#bl05)"/>
<path d="M412.7,294.9 L409.4,292.8 L406.9,289.7 L402.9,289.2 L399.5,287.1 L396.5,284.4" fill="none" stroke="rgb(204,220,242)" stroke-width="1.3" opacity="0.5" filter="url(#bl05)"/>
<path d="M387.4,247.0 L389.9,243.9 L393.4,241.9 L397.3,242.6 L400.7,244.8 L401.7,248.7" fill="none" stroke="rgb(204,220,242)" stroke-width="1.3" opacity="0.5" filter="url(#bl05)"/>
<path d="M394.5,291.1 L390.9,289.4 L389.1,285.8 L385.4,284.3 L381.6,285.3 L378.7,288.1" fill="none" stroke="rgb(204,220,242)" stroke-width="1.3" opacity="0.5" filter="url(#bl05)"/>
<path d="M437.9,270.2 L434.3,268.5 L430.6,266.8 L426.8,265.8 L422.8,265.9 L418.8,265.4" fill="none" stroke="rgb(204,220,242)" stroke-width="1.3" opacity="0.5" filter="url(#bl05)"/>
<path d="M408.9,297.0 L410.2,293.2 L413.6,291.0 L417.4,292.2 L420.7,294.5 L424.7,294.5" fill="none" stroke="rgb(204,220,242)" stroke-width="1.3" opacity="0.5" filter="url(#bl05)"/>
<path d="M429.9,300.5 L433.5,298.6 L437.4,298.3 L440.7,296.0 L444.7,295.9 L448.7,296.4" fill="none" stroke="rgb(204,220,242)" stroke-width="1.3" opacity="0.5" filter="url(#bl05)"/>
<path d="M386.2,248.8 L390.2,248.7 L393.0,245.9 L396.9,244.9 L400.6,243.4 L402.6,239.9" fill="none" stroke="rgb(204,220,242)" stroke-width="1.3" opacity="0.5" filter="url(#bl05)"/>
<path d="M386.8,289.3 L386.6,285.3 L387.2,281.3 L384.8,278.2 L383.7,274.3 L381.5,270.9" fill="none" stroke="rgb(204,220,242)" stroke-width="1.3" opacity="0.5" filter="url(#bl05)"/>
<ellipse cx="366" cy="247" rx="2.5" ry="2" fill="rgb(74,100,162)" opacity="0.8" filter="url(#bl2)"/>
</g>
</g>
<g clip-path="url(#c3)">
<rect x="442.6" y="245.3" width="73.60000000000002" height="57.19999999999999" fill="rgb(134,174,218)"/>
<ellipse cx="481" cy="274" rx="23" ry="17" fill="none" stroke="rgb(109,150,206)" stroke-width="8" opacity="0.8" filter="url(#bl3)"/>
<ellipse cx="455" cy="256" rx="12" ry="9" fill="rgb(172,198,230)" opacity="0.8" filter="url(#bl1)"/>
<ellipse cx="506" cy="292" rx="12" ry="9" fill="rgb(166,194,228)" opacity="0.6" filter="url(#bl1)"/>
<ellipse cx="500" cy="255" rx="10" ry="7" fill="rgb(164,192,228)" opacity="0.6" filter="url(#bl1)"/>
<rect x="442.6" y="245.3" width="73.60" height="57.20" filter="url(#nl)" opacity="0.7"/>
<rect x="442.6" y="245.3" width="73.60" height="57.20" filter="url(#nd)" opacity="0.35"/>
<rect x="442.6" y="245.3" width="73.60" height="57.20" filter="url(#nf)" opacity="0.4"/>
<line x1="442.6" y1="245.8" x2="516.2" y2="245.8" stroke="rgb(84,120,177)" stroke-width="1" opacity="0.5"/>
<line x1="443.1" y1="245.3" x2="443.1" y2="302.5" stroke="rgb(84,120,177)" stroke-width="1" opacity="0.5"/>
<ellipse cx="478" cy="267" rx="7" ry="5.5" fill="rgb(170,135,140)" opacity="0.6" filter="url(#bl2)" transform="rotate(30 478 267)"/>
<ellipse cx="487" cy="275.5" rx="8" ry="5.5" fill="rgb(175,135,135)" opacity="0.6" filter="url(#bl2)" transform="rotate(20 487 275.5)"/>
<g transform="rotate(30 478 267)">
<ellipse cx="478" cy="267" rx="5.8500000000000005" ry="4.2" fill="rgb(0,0,0)" opacity="0.0" filter="url(#bl1)"/>
<circle cx="473.35" cy="268.10" r="0.87" fill="rgb(190,130,105)" filter="url(#bl05)"/>
<circle cx="479.74" cy="265.28" r="0.98" fill="rgb(190,130,105)" filter="url(#bl05)"/>
<circle cx="478.53" cy="265.52" r="0.69" fill="rgb(130,70,55)" filter="url(#bl05)"/>
<circle cx="472.05" cy="265.86" r="0.96" fill="rgb(150,80,60)" filter="url(#bl05)"/>
<circle cx="474.52" cy="269.04" r="0.97" fill="rgb(170,100,75)" filter="url(#bl05)"/>
<circle cx="478.80" cy="265.91" r="0.71" fill="rgb(150,80,60)" filter="url(#bl05)"/>
<circle cx="478.06" cy="267.87" r="0.80" fill="rgb(190,130,105)" filter="url(#bl05)"/>
<circle cx="475.58" cy="265.80" r="0.98" fill="rgb(170,100,75)" filter="url(#bl05)"/>
<circle cx="472.71" cy="267.01" r="0.99" fill="rgb(190,130,105)" filter="url(#bl05)"/>
<circle cx="473.98" cy="269.05" r="1.02" fill="rgb(150,80,60)" filter="url(#bl05)"/>
<circle cx="476.76" cy="269.20" r="0.62" fill="rgb(130,70,55)" filter="url(#bl05)"/>
<circle cx="476.03" cy="266.37" r="1.11" fill="rgb(150,80,60)" filter="url(#bl05)"/>
<circle cx="473.19" cy="270.20" r="0.73" fill="rgb(150,80,60)" filter="url(#bl05)"/>
<circle cx="479.33" cy="266.49" r="1.19" fill="rgb(190,130,105)" filter="url(#bl05)"/>
<circle cx="476.60" cy="267.81" r="1.07" fill="rgb(170,100,75)" filter="url(#bl05)"/>
<circle cx="477.76" cy="268.46" r="0.61" fill="rgb(130,70,55)" filter="url(#bl05)"/>
<circle cx="472.73" cy="269.57" r="0.75" fill="rgb(170,100,75)" filter="url(#bl05)"/>
<circle cx="479.28" cy="267.73" r="0.71" fill="rgb(190,130,105)" filter="url(#bl05)"/>
<circle cx="473.95" cy="265.78" r="1.19" fill="rgb(170,100,75)" filter="url(#bl05)"/>
<circle cx="478.51" cy="263.79" r="0.67" fill="rgb(190,130,105)" filter="url(#bl05)"/>
<circle cx="475.37" cy="268.10" r="1.12" fill="rgb(130,70,55)" filter="url(#bl05)"/>
<circle cx="482.94" cy="266.39" r="0.73" fill="rgb(150,80,60)" filter="url(#bl05)"/>
<circle cx="473.27" cy="269.85" r="0.63" fill="rgb(150,80,60)" filter="url(#bl05)"/>
<circle cx="480.62" cy="269.64" r="1.06" fill="rgb(150,80,60)" filter="url(#bl05)"/>
<circle cx="476.32" cy="269.39" r="0.64" fill="rgb(150,80,60)" filter="url(#bl05)"/>
<circle cx="479.33" cy="270.86" r="0.96" fill="rgb(150,80,60)" filter="url(#bl05)"/>
<circle cx="474.97" cy="269.43" r="1.10" fill="rgb(190,130,105)" filter="url(#bl05)"/>
<circle cx="480.66" cy="269.34" r="0.79" fill="rgb(170,100,75)" filter="url(#bl05)"/>
<circle cx="478.69" cy="270.87" r="0.70" fill="rgb(170,100,75)" filter="url(#bl05)"/>
<circle cx="474.67" cy="264.30" r="1.13" fill="rgb(190,130,105)" filter="url(#bl05)"/>
<circle cx="474.64" cy="265.03" r="0.67" fill="rgb(150,80,60)" filter="url(#bl05)"/>
<circle cx="474.73" cy="266.80" r="0.75" fill="rgb(190,130,105)" filter="url(#bl05)"/>
<circle cx="480.24" cy="263.55" r="0.91" fill="rgb(130,70,55)" filter="url(#bl05)"/>
<circle cx="483.80" cy="264.87" r="0.74" fill="rgb(170,100,75)" filter="url(#bl05)"/>
<circle cx="472.41" cy="265.32" r="0.77" fill="rgb(150,80,60)" filter="url(#bl05)"/>
<circle cx="480.55" cy="265.88" r="0.64" fill="rgb(150,80,60)" filter="url(#bl05)"/>
</g>
<g transform="rotate(20 487 275.5)">
<ellipse cx="487" cy="275.5" rx="7.2" ry="4.62" fill="rgb(0,0,0)" opacity="0.0" filter="url(#bl1)"/>
<circle cx="480.60" cy="276.21" r="0.69" fill="rgb(130,70,55)" filter="url(#bl05)"/>
<circle cx="491.89" cy="275.73" r="0.99" fill="rgb(130,70,55)" filter="url(#bl05)"/>
<circle cx="479.79" cy="276.76" r="0.93" fill="rgb(170,100,75)" filter="url(#bl05)"/>
<circle cx="485.39" cy="273.72" r="0.82" fill="rgb(190,130,105)" filter="url(#bl05)"/>
<circle cx="485.04" cy="277.63" r="0.64" fill="rgb(170,100,75)" filter="url(#bl05)"/>
<circle cx="485.21" cy="272.55" r="1.08" fill="rgb(190,130,105)" filter="url(#bl05)"/>
<circle cx="493.54" cy="278.25" r="0.65" fill="rgb(170,100,75)" filter="url(#bl05)"/>
<circle cx="494.76" cy="275.07" r="1.00" fill="rgb(150,80,60)" filter="url(#bl05)"/>
<circle cx="492.78" cy="274.78" r="1.19" fill="rgb(170,100,75)" filter="url(#bl05)"/>
<circle cx="491.49" cy="272.80" r="0.84" fill="rgb(150,80,60)" filter="url(#bl05)"/>
<circle cx="481.61" cy="277.57" r="0.97" fill="rgb(190,130,105)" filter="url(#bl05)"/>
<circle cx="480.81" cy="274.37" r="1.18" fill="rgb(150,80,60)" filter="url(#bl05)"/>
<circle cx="493.44" cy="274.84" r="1.16" fill="rgb(130,70,55)" filter="url(#bl05)"/>
<circle cx="490.31" cy="272.95" r="0.67" fill="rgb(130,70,55)" filter="url(#bl05)"/>
<circle cx="487.45" cy="278.80" r="0.62" fill="rgb(170,100,75)" filter="url(#bl05)"/>
<circle cx="489.31" cy="272.26" r="0.73" fill="rgb(150,80,60)" filter="url(#bl05)"/>
<circle cx="482.53" cy="277.01" r="1.05" fill="rgb(150,80,60)" filter="url(#bl05)"/>
<circle cx="487.41" cy="277.01" r="0.62" fill="rgb(130,70,55)" filter="url(#bl05)"/>
<circle cx="486.22" cy="278.68" r="0.91" fill="rgb(150,80,60)" filter="url(#bl05)"/>
<circle cx="483.84" cy="277.86" r="0.89" fill="rgb(190,130,105)" filter="url(#bl05)"/>
<circle cx="492.36" cy="274.52" r="0.88" fill="rgb(170,100,75)" filter="url(#bl05)"/>
<circle cx="483.75" cy="274.79" r="1.15" fill="rgb(170,100,75)" filter="url(#bl05)"/>
<circle cx="491.14" cy="275.62" r="0.71" fill="rgb(130,70,55)" filter="url(#bl05)"/>
<circle cx="488.58" cy="271.76" r="0.97" fill="rgb(170,100,75)" filter="url(#bl05)"/>
<circle cx="494.95" cy="274.94" r="0.61" fill="rgb(170,100,75)" filter="url(#bl05)"/>
<circle cx="483.88" cy="279.88" r="0.98" fill="rgb(130,70,55)" filter="url(#bl05)"/>
<circle cx="487.75" cy="279.46" r="0.89" fill="rgb(190,130,105)" filter="url(#bl05)"/>
<circle cx="482.98" cy="279.12" r="1.14" fill="rgb(190,130,105)" filter="url(#bl05)"/>
<circle cx="489.26" cy="278.03" r="0.77" fill="rgb(150,80,60)" filter="url(#bl05)"/>
<circle cx="492.39" cy="274.14" r="1.02" fill="rgb(190,130,105)" filter="url(#bl05)"/>
<circle cx="487.96" cy="278.36" r="0.62" fill="rgb(130,70,55)" filter="url(#bl05)"/>
<circle cx="488.32" cy="275.52" r="0.85" fill="rgb(130,70,55)" filter="url(#bl05)"/>
<circle cx="487.29" cy="279.12" r="0.94" fill="rgb(150,80,60)" filter="url(#bl05)"/>
<circle cx="481.57" cy="271.78" r="1.06" fill="rgb(130,70,55)" filter="url(#bl05)"/>
<circle cx="481.67" cy="277.59" r="1.07" fill="rgb(190,130,105)" filter="url(#bl05)"/>
<circle cx="482.87" cy="273.94" r="0.98" fill="rgb(130,70,55)" filter="url(#bl05)"/>
<circle cx="484.59" cy="276.96" r="1.14" fill="rgb(170,100,75)" filter="url(#bl05)"/>
<circle cx="489.24" cy="270.52" r="0.92" fill="rgb(190,130,105)" filter="url(#bl05)"/>
<circle cx="488.20" cy="272.21" r="1.03" fill="rgb(150,80,60)" filter="url(#bl05)"/>
<circle cx="488.56" cy="278.15" r="0.97" fill="rgb(190,130,105)" filter="url(#bl05)"/>
<circle cx="491.14" cy="278.34" r="0.95" fill="rgb(190,130,105)" filter="url(#bl05)"/>
<circle cx="491.30" cy="276.93" r="1.01" fill="rgb(150,80,60)" filter="url(#bl05)"/>
<circle cx="488.51" cy="276.79" r="0.79" fill="rgb(130,70,55)" filter="url(#bl05)"/>
<circle cx="489.82" cy="279.60" r="0.82" fill="rgb(190,130,105)" filter="url(#bl05)"/>
</g>
<g transform="rotate(0 482 271.5)">
<ellipse cx="482" cy="271.5" rx="3.15" ry="2.52" fill="rgb(0,0,0)" opacity="0.0" filter="url(#bl1)"/>
<circle cx="481.84" cy="273.98" r="0.99" fill="rgb(150,80,60)" filter="url(#bl05)"/>
<circle cx="480.36" cy="269.08" r="0.68" fill="rgb(150,80,60)" filter="url(#bl05)"/>
<circle cx="480.41" cy="271.23" r="0.62" fill="rgb(170,100,75)" filter="url(#bl05)"/>
<circle cx="484.03" cy="273.27" r="1.20" fill="rgb(150,80,60)" filter="url(#bl05)"/>
<circle cx="482.52" cy="270.75" r="1.10" fill="rgb(170,100,75)" filter="url(#bl05)"/>
<circle cx="481.89" cy="268.58" r="0.81" fill="rgb(170,100,75)" filter="url(#bl05)"/>
<circle cx="482.33" cy="274.33" r="1.00" fill="rgb(170,100,75)" filter="url(#bl05)"/>
<circle cx="484.14" cy="269.96" r="0.81" fill="rgb(150,80,60)" filter="url(#bl05)"/>
<circle cx="479.69" cy="270.16" r="1.01" fill="rgb(170,100,75)" filter="url(#bl05)"/>
<circle cx="479.15" cy="270.63" r="0.86" fill="rgb(150,80,60)" filter="url(#bl05)"/>
</g>
</g>
<g clip-path="url(#c4)">
<rect x="287.0" y="302.8" width="75.80000000000001" height="57.5" fill="rgb(220,224,241)"/>
<g clip-path="url(#t4)">
<rect x="287.0" y="302.8" width="75.80000000000001" height="57.5" fill="rgb(152,182,228)"/>
<ellipse cx="313.6" cy="311.6" rx="10.2" ry="6.3" fill="rgb(118,153,215)" opacity="0.9" filter="url(#bl05)" transform="rotate(-5 313.6 311.6)"/>
<ellipse cx="349.2" cy="316.3" rx="8.2" ry="8.6" fill="rgb(118,153,215)" opacity="0.9" filter="url(#bl05)"/>
<ellipse cx="327.3" cy="325.3" rx="6.7" ry="6.7" fill="rgb(120,155,216)" opacity="0.9" filter="url(#bl05)"/>
<ellipse cx="309.3" cy="340.5" rx="9" ry="7.8" fill="rgb(120,155,216)" opacity="0.9" filter="url(#bl05)"/>
<ellipse cx="326.5" cy="340.5" rx="5.9" ry="5.5" fill="rgb(120,155,216)" opacity="0.9" filter="url(#bl05)"/>
<ellipse cx="301.8" cy="324.9" rx="5.5" ry="3.9" fill="rgb(144,170,222)" opacity="0.9" filter="url(#bl05)"/>
<ellipse cx="355" cy="338.7" rx="5.5" ry="6.7" fill="rgb(129,158,218)" opacity="0.9" filter="url(#bl05)"/>
<ellipse cx="342.5" cy="329.3" rx="2.6" ry="2.6" fill="rgb(119,154,214)" opacity="0.9" filter="url(#bl05)"/>
<ellipse cx="340" cy="350" rx="6" ry="4" fill="rgb(134,162,219)" opacity="0.9" filter="url(#bl05)"/>
<ellipse cx="295" cy="345" rx="3" ry="5" fill="rgb(139,166,220)" opacity="0.9" filter="url(#bl05)"/>
<rect x="287.0" y="302.8" width="75.80" height="57.50" filter="url(#nl)" opacity="0.55"/>
<rect x="287.0" y="302.8" width="75.80" height="57.50" filter="url(#nd)" opacity="0.2"/>
<rect x="287.0" y="302.8" width="75.80" height="57.50" filter="url(#nf)" opacity="0.3"/>
</g>
</g>
<g clip-path="url(#c5)">
<rect x="364.5" y="302.8" width="74.10000000000002" height="57.5" fill="rgb(238,238,245)"/>
<g clip-path="url(#t5)">
<rect x="364.5" y="302.8" width="74.10000000000002" height="57.5" fill="rgb(144,175,222)"/>
<ellipse cx="389.8" cy="313" rx="10" ry="7" fill="rgb(124,155,214)" opacity="0.95" filter="url(#bl2)"/>
<ellipse cx="389.8" cy="313" rx="10" ry="7" fill="none" stroke="rgb(104,140,206)" stroke-width="1.8" opacity="0.55" filter="url(#bl2)"/>
<ellipse cx="376.5" cy="331" rx="7.8" ry="10.5" fill="rgb(126,156,214)" opacity="0.95" filter="url(#bl2)"/>
<ellipse cx="376.5" cy="331" rx="7.8" ry="10.5" fill="none" stroke="rgb(104,140,206)" stroke-width="1.8" opacity="0.55" filter="url(#bl2)"/>
<ellipse cx="420.3" cy="332" rx="9.3" ry="10.2" fill="rgb(134,162,217)" opacity="0.95" filter="url(#bl2)"/>
<ellipse cx="420.3" cy="332" rx="9.3" ry="10.2" fill="none" stroke="rgb(104,140,206)" stroke-width="1.8" opacity="0.55" filter="url(#bl2)"/>
<ellipse cx="398" cy="343" rx="7" ry="5" fill="rgb(142,166,218)" opacity="0.95" filter="url(#bl2)"/>
<ellipse cx="398" cy="343" rx="7" ry="5" fill="none" stroke="rgb(104,140,206)" stroke-width="1.8" opacity="0.55" filter="url(#bl2)"/>
<ellipse cx="412" cy="310" rx="6" ry="5" fill="rgb(134,162,217)" opacity="0.95" filter="url(#bl2)"/>
<ellipse cx="412" cy="310" rx="6" ry="5" fill="none" stroke="rgb(104,140,206)" stroke-width="1.8" opacity="0.55" filter="url(#bl2)"/>
<ellipse cx="432" cy="318" rx="4" ry="5" fill="rgb(134,162,217)" opacity="0.95" filter="url(#bl2)"/>
<ellipse cx="432" cy="318" rx="4" ry="5" fill="none" stroke="rgb(104,140,206)" stroke-width="1.8" opacity="0.55" filter="url(#bl2)"/>
<ellipse cx="400" cy="326" rx="6" ry="5" fill="rgb(149,170,220)" opacity="0.95" filter="url(#bl2)"/>
<ellipse cx="400" cy="326" rx="6" ry="5" fill="none" stroke="rgb(104,140,206)" stroke-width="1.8" opacity="0.55" filter="url(#bl2)"/>
<ellipse cx="420.3" cy="332" rx="4.5" ry="5" fill="rgb(162,186,228)" opacity="0.8" filter="url(#bl2)"/>
<rect x="364.5" y="302.8" width="74.10" height="57.50" filter="url(#nl)" opacity="0.55"/>
<rect x="364.5" y="302.8" width="74.10" height="57.50" filter="url(#nd)" opacity="0.3"/>
<rect x="364.5" y="302.8" width="74.10" height="57.50" filter="url(#nf)" opacity="0.3"/>
<circle cx="418" cy="331.2" r="0.9" fill="rgb(44,60,102)"/><circle cx="420.4" cy="331.2" r="0.9" fill="rgb(44,60,102)"/>
</g>
</g>
<g clip-path="url(#c6)">
<rect x="443.2" y="302.8" width="73.40000000000003" height="57.5" fill="rgb(134,178,224)"/>
<ellipse cx="486" cy="331" rx="26" ry="20" fill="rgb(162,200,232)" opacity="0.85" filter="url(#bl3)"/>
<ellipse cx="455" cy="312" rx="14" ry="9" fill="rgb(184,210,236)" opacity="0.8" filter="url(#bl3)"/>
<ellipse cx="485" cy="331" rx="29" ry="23" fill="none" stroke="rgb(112,158,214)" stroke-width="5" opacity="0.75" filter="url(#bl3)"/>
<rect x="443.2" y="302.8" width="73.40" height="57.50" filter="url(#nl)" opacity="0.55"/>
<rect x="443.2" y="302.8" width="73.40" height="57.50" filter="url(#nd)" opacity="0.3"/>
<rect x="443.2" y="302.8" width="73.40" height="57.50" filter="url(#nf)" opacity="0.35"/>
<ellipse cx="490" cy="337" rx="10" ry="7.5" fill="rgb(180,150,150)" opacity="0.45" filter="url(#bl2)" transform="rotate(-25 490 337)"/>
<ellipse cx="478" cy="344" rx="8" ry="6" fill="rgb(185,160,160)" opacity="0.35" filter="url(#bl2)" transform="rotate(-25 478 344)"/>
<g transform="rotate(-28 489.5 337)">
<ellipse cx="489.5" cy="337" rx="9.9" ry="6.3" fill="rgb(0,0,0)" opacity="0.0" filter="url(#bl1)"/>
<circle cx="482.71" cy="332.49" r="1.10" fill="rgb(140,65,50)" filter="url(#bl05)"/>
<circle cx="490.39" cy="333.31" r="1.14" fill="rgb(140,65,50)" filter="url(#bl05)"/>
<circle cx="495.21" cy="340.35" r="0.83" fill="rgb(160,85,65)" filter="url(#bl05)"/>
<circle cx="493.90" cy="339.24" r="0.84" fill="rgb(160,85,65)" filter="url(#bl05)"/>
<circle cx="493.74" cy="343.36" r="0.70" fill="rgb(185,115,95)" filter="url(#bl05)"/>
<circle cx="490.70" cy="334.33" r="0.68" fill="rgb(185,115,95)" filter="url(#bl05)"/>
<circle cx="499.77" cy="337.08" r="1.06" fill="rgb(160,85,65)" filter="url(#bl05)"/>
<circle cx="493.84" cy="336.24" r="0.77" fill="rgb(160,85,65)" filter="url(#bl05)"/>
<circle cx="497.34" cy="335.68" r="0.71" fill="rgb(160,85,65)" filter="url(#bl05)"/>
<circle cx="494.29" cy="336.35" r="0.78" fill="rgb(185,115,95)" filter="url(#bl05)"/>
<circle cx="486.62" cy="339.34" r="0.76" fill="rgb(160,85,65)" filter="url(#bl05)"/>
<circle cx="484.61" cy="342.90" r="0.96" fill="rgb(140,65,50)" filter="url(#bl05)"/>
<circle cx="488.76" cy="335.14" r="1.09" fill="rgb(120,55,45)" filter="url(#bl05)"/>
<circle cx="483.36" cy="337.51" r="0.88" fill="rgb(185,115,95)" filter="url(#bl05)"/>
<circle cx="491.99" cy="340.39" r="1.17" fill="rgb(140,65,50)" filter="url(#bl05)"/>
<circle cx="485.12" cy="340.72" r="0.82" fill="rgb(185,115,95)" filter="url(#bl05)"/>
<circle cx="488.58" cy="336.66" r="1.02" fill="rgb(140,65,50)" filter="url(#bl05)"/>
<circle cx="481.84" cy="331.86" r="1.05" fill="rgb(140,65,50)" filter="url(#bl05)"/>
<circle cx="499.15" cy="333.89" r="0.91" fill="rgb(120,55,45)" filter="url(#bl05)"/>
<circle cx="493.80" cy="334.66" r="0.66" fill="rgb(185,115,95)" filter="url(#bl05)"/>
<circle cx="489.40" cy="330.30" r="0.62" fill="rgb(120,55,45)" filter="url(#bl05)"/>
<circle cx="492.63" cy="336.24" r="0.91" fill="rgb(120,55,45)" filter="url(#bl05)"/>
<circle cx="486.75" cy="339.19" r="1.15" fill="rgb(120,55,45)" filter="url(#bl05)"/>
<circle cx="483.60" cy="335.83" r="0.78" fill="rgb(120,55,45)" filter="url(#bl05)"/>
<circle cx="492.13" cy="331.34" r="1.20" fill="rgb(120,55,45)" filter="url(#bl05)"/>
<circle cx="490.78" cy="338.40" r="0.62" fill="rgb(185,115,95)" filter="url(#bl05)"/>
<circle cx="489.12" cy="332.61" r="0.87" fill="rgb(120,55,45)" filter="url(#bl05)"/>
<circle cx="487.21" cy="337.84" r="1.08" fill="rgb(140,65,50)" filter="url(#bl05)"/>
<circle cx="486.97" cy="339.95" r="0.98" fill="rgb(160,85,65)" filter="url(#bl05)"/>
<circle cx="490.35" cy="334.62" r="0.82" fill="rgb(185,115,95)" filter="url(#bl05)"/>
<circle cx="496.15" cy="338.76" r="0.87" fill="rgb(160,85,65)" filter="url(#bl05)"/>
<circle cx="499.65" cy="336.97" r="1.18" fill="rgb(185,115,95)" filter="url(#bl05)"/>
<circle cx="487.18" cy="333.08" r="0.77" fill="rgb(120,55,45)" filter="url(#bl05)"/>
<circle cx="486.04" cy="338.63" r="1.09" fill="rgb(185,115,95)" filter="url(#bl05)"/>
<circle cx="484.93" cy="336.37" r="1.12" fill="rgb(185,115,95)" filter="url(#bl05)"/>
<circle cx="492.78" cy="341.76" r="0.64" fill="rgb(120,55,45)" filter="url(#bl05)"/>
<circle cx="491.34" cy="332.71" r="1.06" fill="rgb(140,65,50)" filter="url(#bl05)"/>
<circle cx="483.46" cy="341.76" r="1.10" fill="rgb(120,55,45)" filter="url(#bl05)"/>
<circle cx="488.48" cy="344.40" r="1.17" fill="rgb(120,55,45)" filter="url(#bl05)"/>
<circle cx="487.01" cy="339.68" r="0.88" fill="rgb(140,65,50)" filter="url(#bl05)"/>
<circle cx="490.43" cy="332.77" r="0.88" fill="rgb(120,55,45)" filter="url(#bl05)"/>
<circle cx="493.10" cy="331.49" r="0.81" fill="rgb(120,55,45)" filter="url(#bl05)"/>
<circle cx="483.67" cy="331.93" r="0.81" fill="rgb(185,115,95)" filter="url(#bl05)"/>
<circle cx="495.15" cy="331.16" r="1.19" fill="rgb(185,115,95)" filter="url(#bl05)"/>
<circle cx="497.12" cy="335.54" r="0.72" fill="rgb(160,85,65)" filter="url(#bl05)"/>
<circle cx="482.92" cy="342.28" r="1.01" fill="rgb(120,55,45)" filter="url(#bl05)"/>
<circle cx="487.72" cy="330.71" r="0.97" fill="rgb(160,85,65)" filter="url(#bl05)"/>
<circle cx="496.78" cy="334.90" r="0.78" fill="rgb(185,115,95)" filter="url(#bl05)"/>
<circle cx="479.82" cy="334.71" r="1.03" fill="rgb(120,55,45)" filter="url(#bl05)"/>
<circle cx="493.83" cy="337.52" r="0.97" fill="rgb(185,115,95)" filter="url(#bl05)"/>
<circle cx="493.54" cy="342.93" r="0.98" fill="rgb(160,85,65)" filter="url(#bl05)"/>
<circle cx="496.79" cy="338.34" r="0.70" fill="rgb(160,85,65)" filter="url(#bl05)"/>
<circle cx="492.35" cy="335.43" r="0.89" fill="rgb(160,85,65)" filter="url(#bl05)"/>
<circle cx="482.73" cy="335.55" r="0.83" fill="rgb(120,55,45)" filter="url(#bl05)"/>
<circle cx="483.05" cy="333.28" r="1.03" fill="rgb(160,85,65)" filter="url(#bl05)"/>
<circle cx="484.92" cy="340.16" r="1.11" fill="rgb(120,55,45)" filter="url(#bl05)"/>
<circle cx="495.60" cy="332.37" r="1.18" fill="rgb(120,55,45)" filter="url(#bl05)"/>
<circle cx="483.76" cy="335.73" r="0.93" fill="rgb(120,55,45)" filter="url(#bl05)"/>
<circle cx="485.04" cy="341.84" r="1.09" fill="rgb(120,55,45)" filter="url(#bl05)"/>
<circle cx="480.84" cy="340.29" r="0.88" fill="rgb(120,55,45)" filter="url(#bl05)"/>
<circle cx="493.26" cy="340.87" r="1.17" fill="rgb(185,115,95)" filter="url(#bl05)"/>
<circle cx="497.91" cy="335.83" r="1.09" fill="rgb(120,55,45)" filter="url(#bl05)"/>
<circle cx="485.92" cy="333.06" r="0.94" fill="rgb(120,55,45)" filter="url(#bl05)"/>
<circle cx="486.41" cy="335.14" r="0.86" fill="rgb(185,115,95)" filter="url(#bl05)"/>
<circle cx="497.14" cy="336.23" r="1.18" fill="rgb(185,115,95)" filter="url(#bl05)"/>
<circle cx="481.65" cy="342.04" r="0.96" fill="rgb(160,85,65)" filter="url(#bl05)"/>
<circle cx="488.83" cy="344.41" r="0.75" fill="rgb(185,115,95)" filter="url(#bl05)"/>
<circle cx="500.11" cy="337.90" r="0.90" fill="rgb(120,55,45)" filter="url(#bl05)"/>
<circle cx="487.78" cy="342.04" r="1.00" fill="rgb(140,65,50)" filter="url(#bl05)"/>
<circle cx="494.79" cy="336.09" r="1.07" fill="rgb(140,65,50)" filter="url(#bl05)"/>
<circle cx="490.09" cy="336.24" r="0.75" fill="rgb(120,55,45)" filter="url(#bl05)"/>
<circle cx="487.42" cy="337.23" r="0.76" fill="rgb(185,115,95)" filter="url(#bl05)"/>
<circle cx="495.66" cy="343.16" r="0.90" fill="rgb(120,55,45)" filter="url(#bl05)"/>
<circle cx="497.41" cy="336.75" r="0.61" fill="rgb(140,65,50)" filter="url(#bl05)"/>
<circle cx="493.61" cy="339.84" r="0.97" fill="rgb(120,55,45)" filter="url(#bl05)"/>
<circle cx="489.29" cy="335.78" r="0.82" fill="rgb(120,55,45)" filter="url(#bl05)"/>
<circle cx="489.24" cy="331.24" r="0.60" fill="rgb(140,65,50)" filter="url(#bl05)"/>
<circle cx="480.90" cy="334.96" r="1.13" fill="rgb(140,65,50)" filter="url(#bl05)"/>
<circle cx="488.23" cy="336.74" r="0.96" fill="rgb(185,115,95)" filter="url(#bl05)"/>
<circle cx="485.48" cy="330.21" r="1.12" fill="rgb(185,115,95)" filter="url(#bl05)"/>
</g>
<g transform="rotate(-28 477 344.5)">
<ellipse cx="477" cy="344.5" rx="6.75" ry="4.62" fill="rgb(0,0,0)" opacity="0.0" filter="url(#bl1)"/>
<circle cx="478.83" cy="339.70" r="1.06" fill="rgb(170,95,80)" filter="url(#bl05)"/>
<circle cx="479.79" cy="344.98" r="0.88" fill="rgb(200,150,135)" filter="url(#bl05)"/>
<circle cx="477.28" cy="341.15" r="0.76" fill="rgb(145,70,55)" filter="url(#bl05)"/>
<circle cx="479.05" cy="340.05" r="1.15" fill="rgb(170,95,80)" filter="url(#bl05)"/>
<circle cx="474.77" cy="344.09" r="0.93" fill="rgb(200,150,135)" filter="url(#bl05)"/>
<circle cx="478.31" cy="341.83" r="1.01" fill="rgb(200,150,135)" filter="url(#bl05)"/>
<circle cx="479.43" cy="341.86" r="0.82" fill="rgb(145,70,55)" filter="url(#bl05)"/>
<circle cx="473.83" cy="345.98" r="0.66" fill="rgb(200,150,135)" filter="url(#bl05)"/>
<circle cx="478.95" cy="348.64" r="0.66" fill="rgb(170,95,80)" filter="url(#bl05)"/>
<circle cx="483.83" cy="345.98" r="1.15" fill="rgb(200,150,135)" filter="url(#bl05)"/>
<circle cx="470.18" cy="344.92" r="0.91" fill="rgb(145,70,55)" filter="url(#bl05)"/>
<circle cx="473.15" cy="340.88" r="1.19" fill="rgb(200,150,135)" filter="url(#bl05)"/>
<circle cx="481.44" cy="345.09" r="0.86" fill="rgb(200,150,135)" filter="url(#bl05)"/>
<circle cx="475.38" cy="345.99" r="1.13" fill="rgb(200,150,135)" filter="url(#bl05)"/>
<circle cx="474.47" cy="344.20" r="0.76" fill="rgb(200,150,135)" filter="url(#bl05)"/>
<circle cx="476.11" cy="341.17" r="0.68" fill="rgb(145,70,55)" filter="url(#bl05)"/>
<circle cx="478.74" cy="349.46" r="0.91" fill="rgb(200,150,135)" filter="url(#bl05)"/>
<circle cx="478.16" cy="346.60" r="0.80" fill="rgb(200,150,135)" filter="url(#bl05)"/>
<circle cx="481.87" cy="342.05" r="0.82" fill="rgb(170,95,80)" filter="url(#bl05)"/>
<circle cx="473.03" cy="343.99" r="1.20" fill="rgb(200,150,135)" filter="url(#bl05)"/>
<circle cx="481.60" cy="345.69" r="1.20" fill="rgb(200,150,135)" filter="url(#bl05)"/>
<circle cx="481.10" cy="346.57" r="1.14" fill="rgb(145,70,55)" filter="url(#bl05)"/>
<circle cx="473.60" cy="339.95" r="1.07" fill="rgb(170,95,80)" filter="url(#bl05)"/>
<circle cx="475.49" cy="345.54" r="0.88" fill="rgb(170,95,80)" filter="url(#bl05)"/>
<circle cx="475.68" cy="341.12" r="0.72" fill="rgb(145,70,55)" filter="url(#bl05)"/>
<circle cx="474.86" cy="341.15" r="1.07" fill="rgb(200,150,135)" filter="url(#bl05)"/>
<circle cx="477.52" cy="345.22" r="0.75" fill="rgb(145,70,55)" filter="url(#bl05)"/>
<circle cx="478.04" cy="342.24" r="0.87" fill="rgb(200,150,135)" filter="url(#bl05)"/>
<circle cx="480.40" cy="343.28" r="1.16" fill="rgb(170,95,80)" filter="url(#bl05)"/>
<circle cx="472.39" cy="346.31" r="0.88" fill="rgb(200,150,135)" filter="url(#bl05)"/>
<circle cx="474.20" cy="344.78" r="0.90" fill="rgb(170,95,80)" filter="url(#bl05)"/>
<circle cx="473.60" cy="341.69" r="1.00" fill="rgb(170,95,80)" filter="url(#bl05)"/>
</g>
</g>
<text x="321.8" y="299.9" font-size="7.0" text-anchor="middle" fill="#14182a" stroke="#14182a" stroke-width="0.3" textLength="21.2" lengthAdjust="spacingAndGlyphs">WT x40</text>
<text x="400.0" y="299.9" font-size="7.0" text-anchor="middle" fill="#14182a" stroke="#14182a" stroke-width="0.3" textLength="37" lengthAdjust="spacingAndGlyphs">EFSeGFP X40</text>
<text x="478.1" y="299.9" font-size="7.0" text-anchor="middle" fill="#14182a" stroke="#14182a" stroke-width="0.3" textLength="26.3" lengthAdjust="spacingAndGlyphs">WT X100</text>
<text x="321.8" y="358.0" font-size="7.0" text-anchor="middle" fill="#14182a" stroke="#14182a" stroke-width="0.3" textLength="20.7" lengthAdjust="spacingAndGlyphs">KO X40</text>
<text x="403.5" y="358.0" font-size="7.0" text-anchor="middle" fill="#14182a" stroke="#14182a" stroke-width="0.3" textLength="52.4" lengthAdjust="spacingAndGlyphs">EFS-SAPeGFP X40</text>
<text x="478.3" y="358.0" font-size="7.0" text-anchor="middle" fill="#14182a" stroke="#14182a" stroke-width="0.3" textLength="55" lengthAdjust="spacingAndGlyphs">EFS-SAPeGFP X100</text>
</svg>
</body></html>
